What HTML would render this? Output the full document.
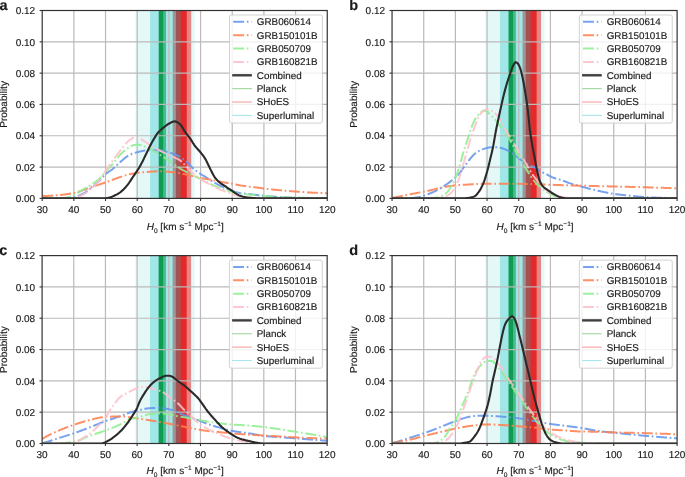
<!DOCTYPE html>
<html><head><meta charset="utf-8"><style>
html,body{margin:0;padding:0;background:#fff;}
svg{display:block;will-change:transform;}
text{font-family:"Liberation Sans", sans-serif;fill:#1a1a1a;text-rendering:geometricPrecision;stroke:#1a1a1a;stroke-width:0.15px;}
</style></head><body>
<svg width="685" height="477" viewBox="0 0 685 477">
<rect width="685" height="477" fill="#fff"/>
<g id="pa">
<clipPath id="ca"><rect x="42.2" y="10.5" width="285.05" height="187.9"/></clipPath>
<g clip-path="url(#ca)">
<rect x="158.79" y="10.5" width="7.22" height="187.9" fill="#008000" fill-opacity="0.55"/>
<rect x="158.79" y="10.5" width="4.4" height="187.9" fill="#008000" fill-opacity="0.8"/>
<rect x="172.69" y="10.5" width="18.5" height="187.9" fill="#ff0000" fill-opacity="0.5"/>
<rect x="175.89" y="10.5" width="10.9" height="187.9" fill="#ff0000" fill-opacity="0.8"/>
<rect x="135.47" y="10.5" width="59.29" height="187.9" fill="#00bfbf" fill-opacity="0.1"/>
<rect x="150.08" y="10.5" width="30.6" height="187.9" fill="#00bfbf" fill-opacity="0.289"/>
<line x1="73.87" y1="10.5" x2="73.87" y2="198.4" stroke="#bababa" stroke-width="1.2"/>
<line x1="105.54" y1="10.5" x2="105.54" y2="198.4" stroke="#bababa" stroke-width="1.2"/>
<line x1="137.22" y1="10.5" x2="137.22" y2="198.4" stroke="#bababa" stroke-width="1.2"/>
<line x1="168.89" y1="10.5" x2="168.89" y2="198.4" stroke="#bababa" stroke-width="1.2"/>
<line x1="200.56" y1="10.5" x2="200.56" y2="198.4" stroke="#bababa" stroke-width="1.2"/>
<line x1="232.23" y1="10.5" x2="232.23" y2="198.4" stroke="#bababa" stroke-width="1.2"/>
<line x1="263.91" y1="10.5" x2="263.91" y2="198.4" stroke="#bababa" stroke-width="1.2"/>
<line x1="295.58" y1="10.5" x2="295.58" y2="198.4" stroke="#bababa" stroke-width="1.2"/>
<line x1="42.2" y1="167.08" x2="327.25" y2="167.08" stroke="#bababa" stroke-width="1.2"/>
<line x1="42.2" y1="135.77" x2="327.25" y2="135.77" stroke="#bababa" stroke-width="1.2"/>
<line x1="42.2" y1="104.45" x2="327.25" y2="104.45" stroke="#bababa" stroke-width="1.2"/>
<line x1="42.2" y1="73.13" x2="327.25" y2="73.13" stroke="#bababa" stroke-width="1.2"/>
<line x1="42.2" y1="41.82" x2="327.25" y2="41.82" stroke="#bababa" stroke-width="1.2"/>
<path d="M42.2 198.4 L42.99 198.4 L43.78 198.4 L44.58 198.4 L45.37 198.4 L46.16 198.4 L46.95 198.4 L47.74 198.4 L48.53 198.4 L49.33 198.4 L50.12 198.4 L50.91 198.4 L51.7 198.4 L52.49 198.4 L53.29 198.4 L54.08 198.4 L54.87 198.4 L55.66 198.4 L56.45 198.4 L57.24 198.4 L58.04 198.4 L58.83 198.4 L59.62 198.4 L60.41 198.4 L61.2 198.4 L62 198.4 L62.79 198.4 L63.58 198.4 L64.37 198.4 L65.16 198.4 L65.95 198.39 L66.75 198.36 L67.54 198.3 L68.33 198.22 L69.12 198.12 L69.91 198.01 L70.71 197.89 L71.5 197.75 L72.29 197.6 L73.08 197.46 L73.87 197.3 L74.66 197.13 L75.46 196.92 L76.25 196.68 L77.04 196.4 L77.83 196.1 L78.62 195.78 L79.41 195.44 L80.21 195.08 L81 194.71 L81.79 194.33 L82.58 193.93 L83.37 193.5 L84.17 193.04 L84.96 192.54 L85.75 192.01 L86.54 191.46 L87.33 190.89 L88.12 190.31 L88.92 189.71 L89.71 189.11 L90.5 188.5 L91.29 187.89 L92.08 187.26 L92.88 186.61 L93.67 185.94 L94.46 185.25 L95.25 184.55 L96.04 183.84 L96.83 183.11 L97.63 182.37 L98.42 181.62 L99.21 180.86 L100 180.06 L100.79 179.2 L101.59 178.31 L102.38 177.41 L103.17 176.52 L103.96 175.66 L104.75 174.86 L105.54 174.13 L106.34 173.48 L107.13 172.88 L107.92 172.32 L108.71 171.78 L109.5 171.26 L110.3 170.73 L111.09 170.19 L111.88 169.61 L112.67 168.99 L113.46 168.33 L114.25 167.63 L115.05 166.9 L115.84 166.15 L116.63 165.39 L117.42 164.63 L118.21 163.87 L119.01 163.14 L119.8 162.42 L120.59 161.74 L121.38 161.07 L122.17 160.4 L122.96 159.71 L123.76 159.03 L124.55 158.36 L125.34 157.71 L126.13 157.09 L126.92 156.5 L127.72 155.96 L128.51 155.46 L129.3 155.03 L130.09 154.65 L130.88 154.3 L131.67 153.97 L132.47 153.66 L133.26 153.37 L134.05 153.1 L134.84 152.85 L135.63 152.62 L136.42 152.4 L137.22 152.21 L138.01 152.02 L138.8 151.83 L139.59 151.64 L140.38 151.45 L141.18 151.26 L141.97 151.09 L142.76 150.92 L143.55 150.76 L144.34 150.62 L145.13 150.49 L145.93 150.38 L146.72 150.29 L147.51 150.23 L148.3 150.19 L149.09 150.17 L149.89 150.17 L150.68 150.17 L151.47 150.17 L152.26 150.17 L153.05 150.17 L153.84 150.17 L154.64 150.17 L155.43 150.17 L156.22 150.17 L157.01 150.17 L157.8 150.17 L158.6 150.17 L159.39 150.2 L160.18 150.27 L160.97 150.37 L161.76 150.5 L162.55 150.65 L163.35 150.83 L164.14 151.03 L164.93 151.24 L165.72 151.46 L166.51 151.68 L167.31 151.91 L168.1 152.14 L168.89 152.36 L169.68 152.59 L170.47 152.83 L171.26 153.09 L172.06 153.36 L172.85 153.64 L173.64 153.95 L174.43 154.26 L175.22 154.59 L176.02 154.94 L176.81 155.3 L177.6 155.67 L178.39 156.06 L179.18 156.47 L179.97 156.89 L180.77 157.34 L181.56 157.84 L182.35 158.39 L183.14 158.98 L183.93 159.59 L184.73 160.23 L185.52 160.89 L186.31 161.56 L187.1 162.25 L187.89 163 L188.68 163.81 L189.48 164.65 L190.27 165.51 L191.06 166.36 L191.85 167.18 L192.64 167.96 L193.43 168.68 L194.23 169.34 L195.02 169.98 L195.81 170.59 L196.6 171.18 L197.39 171.76 L198.19 172.32 L198.98 172.88 L199.77 173.42 L200.56 173.96 L201.35 174.48 L202.14 174.99 L202.94 175.49 L203.73 175.97 L204.52 176.46 L205.31 176.94 L206.1 177.43 L206.9 177.93 L207.69 178.43 L208.48 178.94 L209.27 179.45 L210.06 179.96 L210.85 180.47 L211.65 180.97 L212.44 181.46 L213.23 181.93 L214.02 182.39 L214.81 182.84 L215.61 183.28 L216.4 183.71 L217.19 184.14 L217.98 184.55 L218.77 184.96 L219.56 185.37 L220.36 185.76 L221.15 186.16 L221.94 186.55 L222.73 186.93 L223.52 187.31 L224.32 187.68 L225.11 188.04 L225.9 188.39 L226.69 188.73 L227.48 189.06 L228.27 189.38 L229.07 189.7 L229.86 190.02 L230.65 190.32 L231.44 190.61 L232.23 190.89 L233.03 191.15 L233.82 191.4 L234.61 191.64 L235.4 191.88 L236.19 192.11 L236.98 192.33 L237.78 192.53 L238.57 192.72 L239.36 192.89 L240.15 193.04 L240.94 193.16 L241.74 193.27 L242.53 193.37 L243.32 193.46 L244.11 193.54 L244.9 193.63 L245.69 193.71 L246.49 193.79 L247.28 193.88 L248.07 193.97 L248.86 194.07 L249.65 194.16 L250.44 194.25 L251.24 194.35 L252.03 194.44 L252.82 194.53 L253.61 194.62 L254.4 194.71 L255.2 194.8 L255.99 194.89 L256.78 194.98 L257.57 195.07 L258.36 195.16 L259.15 195.24 L259.95 195.33 L260.74 195.42 L261.53 195.5 L262.32 195.58 L263.11 195.66 L263.91 195.74 L264.7 195.81 L265.49 195.89 L266.28 195.96 L267.07 196.04 L267.86 196.11 L268.66 196.19 L269.45 196.26 L270.24 196.33 L271.03 196.4 L271.82 196.47 L272.62 196.54 L273.41 196.6 L274.2 196.67 L274.99 196.73 L275.78 196.79 L276.57 196.85 L277.37 196.9 L278.16 196.95 L278.95 197 L279.74 197.05 L280.53 197.09 L281.33 197.14 L282.12 197.19 L282.91 197.23 L283.7 197.28 L284.49 197.32 L285.28 197.36 L286.08 197.4 L286.87 197.44 L287.66 197.48 L288.45 197.52 L289.24 197.55 L290.04 197.59 L290.83 197.62 L291.62 197.65 L292.41 197.68 L293.2 197.71 L293.99 197.73 L294.79 197.75 L295.58 197.77 L296.37 197.79 L297.16 197.81 L297.95 197.83 L298.75 197.85 L299.54 197.87 L300.33 197.88 L301.12 197.9 L301.91 197.92 L302.7 197.94 L303.5 197.95 L304.29 197.97 L305.08 197.99 L305.87 198 L306.66 198.02 L307.45 198.03 L308.25 198.05 L309.04 198.06 L309.83 198.08 L310.62 198.09 L311.41 198.1 L312.21 198.12 L313 198.13 L313.79 198.14 L314.58 198.15 L315.37 198.16 L316.16 198.17 L316.96 198.18 L317.75 198.19 L318.54 198.2 L319.33 198.21 L320.12 198.21 L320.92 198.22 L321.71 198.22 L322.5 198.23 L323.29 198.23 L324.08 198.24 L324.87 198.24 L325.67 198.24 L326.46 198.24 L327.25 198.24" fill="none" stroke="#6495ed" stroke-width="2.0" stroke-opacity="0.88" stroke-dasharray="10.9 2.7 1.7 2.7" stroke-linejoin="round"/>
<path d="M42.2 196.05 L42.99 196.04 L43.78 196.02 L44.58 196 L45.37 195.98 L46.16 195.95 L46.95 195.92 L47.74 195.88 L48.53 195.84 L49.33 195.8 L50.12 195.75 L50.91 195.7 L51.7 195.65 L52.49 195.6 L53.29 195.55 L54.08 195.49 L54.87 195.43 L55.66 195.38 L56.45 195.32 L57.24 195.26 L58.04 195.19 L58.83 195.12 L59.62 195.05 L60.41 194.97 L61.2 194.89 L62 194.8 L62.79 194.7 L63.58 194.6 L64.37 194.5 L65.16 194.39 L65.95 194.28 L66.75 194.16 L67.54 194.04 L68.33 193.91 L69.12 193.78 L69.91 193.65 L70.71 193.51 L71.5 193.37 L72.29 193.22 L73.08 193.07 L73.87 192.92 L74.66 192.76 L75.46 192.57 L76.25 192.37 L77.04 192.16 L77.83 191.93 L78.62 191.69 L79.41 191.44 L80.21 191.18 L81 190.91 L81.79 190.63 L82.58 190.35 L83.37 190.06 L84.17 189.77 L84.96 189.48 L85.75 189.19 L86.54 188.89 L87.33 188.6 L88.12 188.32 L88.92 188.04 L89.71 187.76 L90.5 187.49 L91.29 187.23 L92.08 186.97 L92.88 186.7 L93.67 186.44 L94.46 186.18 L95.25 185.92 L96.04 185.65 L96.83 185.39 L97.63 185.12 L98.42 184.86 L99.21 184.59 L100 184.32 L100.79 184.06 L101.59 183.79 L102.38 183.52 L103.17 183.25 L103.96 182.98 L104.75 182.7 L105.54 182.43 L106.34 182.15 L107.13 181.87 L107.92 181.58 L108.71 181.29 L109.5 180.99 L110.3 180.69 L111.09 180.39 L111.88 180.09 L112.67 179.78 L113.46 179.48 L114.25 179.18 L115.05 178.88 L115.84 178.58 L116.63 178.28 L117.42 177.99 L118.21 177.7 L119.01 177.41 L119.8 177.13 L120.59 176.86 L121.38 176.59 L122.17 176.33 L122.96 176.08 L123.76 175.84 L124.55 175.6 L125.34 175.37 L126.13 175.15 L126.92 174.94 L127.72 174.73 L128.51 174.53 L129.3 174.34 L130.09 174.16 L130.88 174 L131.67 173.83 L132.47 173.67 L133.26 173.52 L134.05 173.37 L134.84 173.23 L135.63 173.1 L136.42 172.98 L137.22 172.88 L138.01 172.78 L138.8 172.69 L139.59 172.6 L140.38 172.51 L141.18 172.43 L141.97 172.35 L142.76 172.27 L143.55 172.2 L144.34 172.13 L145.13 172.07 L145.93 172 L146.72 171.94 L147.51 171.89 L148.3 171.83 L149.09 171.78 L149.89 171.73 L150.68 171.67 L151.47 171.62 L152.26 171.57 L153.05 171.51 L153.84 171.47 L154.64 171.42 L155.43 171.38 L156.22 171.35 L157.01 171.33 L157.8 171.31 L158.6 171.31 L159.39 171.32 L160.18 171.33 L160.97 171.35 L161.76 171.37 L162.55 171.41 L163.35 171.44 L164.14 171.48 L164.93 171.53 L165.72 171.57 L166.51 171.62 L167.31 171.67 L168.1 171.73 L168.89 171.78 L169.68 171.84 L170.47 171.91 L171.26 172 L172.06 172.09 L172.85 172.19 L173.64 172.3 L174.43 172.42 L175.22 172.54 L176.02 172.67 L176.81 172.8 L177.6 172.94 L178.39 173.07 L179.18 173.21 L179.97 173.34 L180.77 173.48 L181.56 173.62 L182.35 173.78 L183.14 173.93 L183.93 174.1 L184.73 174.26 L185.52 174.43 L186.31 174.61 L187.1 174.79 L187.89 174.96 L188.68 175.14 L189.48 175.32 L190.27 175.5 L191.06 175.68 L191.85 175.87 L192.64 176.07 L193.43 176.27 L194.23 176.47 L195.02 176.68 L195.81 176.88 L196.6 177.08 L197.39 177.28 L198.19 177.47 L198.98 177.65 L199.77 177.82 L200.56 177.98 L201.35 178.12 L202.14 178.27 L202.94 178.4 L203.73 178.53 L204.52 178.66 L205.31 178.79 L206.1 178.91 L206.9 179.04 L207.69 179.17 L208.48 179.3 L209.27 179.44 L210.06 179.59 L210.85 179.74 L211.65 179.91 L212.44 180.08 L213.23 180.26 L214.02 180.44 L214.81 180.62 L215.61 180.81 L216.4 180.99 L217.19 181.17 L217.98 181.34 L218.77 181.51 L219.56 181.67 L220.36 181.82 L221.15 181.96 L221.94 182.09 L222.73 182.21 L223.52 182.33 L224.32 182.45 L225.11 182.57 L225.9 182.68 L226.69 182.8 L227.48 182.91 L228.27 183.03 L229.07 183.16 L229.86 183.29 L230.65 183.43 L231.44 183.58 L232.23 183.74 L233.03 183.9 L233.82 184.07 L234.61 184.24 L235.4 184.41 L236.19 184.58 L236.98 184.75 L237.78 184.92 L238.57 185.08 L239.36 185.23 L240.15 185.37 L240.94 185.5 L241.74 185.62 L242.53 185.74 L243.32 185.86 L244.11 185.98 L244.9 186.09 L245.69 186.2 L246.49 186.3 L247.28 186.41 L248.07 186.51 L248.86 186.61 L249.65 186.71 L250.44 186.81 L251.24 186.91 L252.03 187 L252.82 187.09 L253.61 187.18 L254.4 187.26 L255.2 187.34 L255.99 187.43 L256.78 187.52 L257.57 187.6 L258.36 187.7 L259.15 187.8 L259.95 187.9 L260.74 188.02 L261.53 188.15 L262.32 188.29 L263.11 188.42 L263.91 188.54 L264.7 188.64 L265.49 188.74 L266.28 188.83 L267.07 188.93 L267.86 189.02 L268.66 189.11 L269.45 189.19 L270.24 189.28 L271.03 189.36 L271.82 189.44 L272.62 189.52 L273.41 189.59 L274.2 189.67 L274.99 189.75 L275.78 189.82 L276.57 189.89 L277.37 189.97 L278.16 190.04 L278.95 190.12 L279.74 190.19 L280.53 190.26 L281.33 190.33 L282.12 190.41 L282.91 190.48 L283.7 190.55 L284.49 190.61 L285.28 190.68 L286.08 190.75 L286.87 190.82 L287.66 190.88 L288.45 190.95 L289.24 191.01 L290.04 191.08 L290.83 191.14 L291.62 191.2 L292.41 191.27 L293.2 191.33 L293.99 191.39 L294.79 191.45 L295.58 191.51 L296.37 191.57 L297.16 191.63 L297.95 191.69 L298.75 191.75 L299.54 191.81 L300.33 191.87 L301.12 191.93 L301.91 191.99 L302.7 192.05 L303.5 192.11 L304.29 192.17 L305.08 192.22 L305.87 192.28 L306.66 192.33 L307.45 192.38 L308.25 192.43 L309.04 192.48 L309.83 192.52 L310.62 192.57 L311.41 192.61 L312.21 192.65 L313 192.69 L313.79 192.72 L314.58 192.76 L315.37 192.8 L316.16 192.83 L316.96 192.87 L317.75 192.9 L318.54 192.94 L319.33 192.97 L320.12 193 L320.92 193.03 L321.71 193.06 L322.5 193.09 L323.29 193.12 L324.08 193.14 L324.87 193.17 L325.67 193.19 L326.46 193.21 L327.25 193.23" fill="none" stroke="#ff7f50" stroke-width="2.0" stroke-opacity="0.88" stroke-dasharray="10.9 2.7 1.7 2.7" stroke-linejoin="round"/>
<path d="M42.2 198.4 L42.99 198.4 L43.78 198.4 L44.58 198.4 L45.37 198.4 L46.16 198.4 L46.95 198.4 L47.74 198.4 L48.53 198.4 L49.33 198.4 L50.12 198.4 L50.91 198.4 L51.7 198.4 L52.49 198.4 L53.29 198.4 L54.08 198.4 L54.87 198.4 L55.66 198.4 L56.45 198.4 L57.24 198.4 L58.04 198.4 L58.83 198.39 L59.62 198.36 L60.41 198.31 L61.2 198.26 L62 198.18 L62.79 198.11 L63.58 198.02 L64.37 197.93 L65.16 197.82 L65.95 197.68 L66.75 197.52 L67.54 197.32 L68.33 197.1 L69.12 196.86 L69.91 196.6 L70.71 196.33 L71.5 196.04 L72.29 195.74 L73.08 195.43 L73.87 195.11 L74.66 194.76 L75.46 194.36 L76.25 193.91 L77.04 193.43 L77.83 192.92 L78.62 192.39 L79.41 191.86 L80.21 191.32 L81 190.8 L81.79 190.3 L82.58 189.81 L83.37 189.34 L84.17 188.87 L84.96 188.41 L85.75 187.94 L86.54 187.47 L87.33 187 L88.12 186.52 L88.92 186.04 L89.71 185.54 L90.5 185.04 L91.29 184.52 L92.08 184.02 L92.88 183.51 L93.67 183 L94.46 182.48 L95.25 181.94 L96.04 181.39 L96.83 180.81 L97.63 180.2 L98.42 179.55 L99.21 178.86 L100 178.08 L100.79 177.23 L101.59 176.32 L102.38 175.38 L103.17 174.42 L103.96 173.46 L104.75 172.52 L105.54 171.62 L106.34 170.76 L107.13 169.91 L107.92 169.07 L108.71 168.23 L109.5 167.4 L110.3 166.55 L111.09 165.7 L111.88 164.82 L112.67 163.93 L113.46 162.98 L114.25 162 L115.05 160.99 L115.84 159.96 L116.63 158.93 L117.42 157.91 L118.21 156.92 L119.01 155.97 L119.8 155.07 L120.59 154.24 L121.38 153.47 L122.17 152.73 L122.96 152 L123.76 151.3 L124.55 150.63 L125.34 149.98 L126.13 149.36 L126.92 148.76 L127.72 148.2 L128.51 147.66 L129.3 147.15 L130.09 146.64 L130.88 146.16 L131.67 145.76 L132.47 145.47 L133.26 145.27 L134.05 145.09 L134.84 144.93 L135.63 144.8 L136.42 144.72 L137.22 144.69 L138.01 144.72 L138.8 144.79 L139.59 144.91 L140.38 145.07 L141.18 145.27 L141.97 145.49 L142.76 145.75 L143.55 146.03 L144.34 146.33 L145.13 146.64 L145.93 146.97 L146.72 147.3 L147.51 147.63 L148.3 147.97 L149.09 148.29 L149.89 148.64 L150.68 149.03 L151.47 149.46 L152.26 149.93 L153.05 150.41 L153.84 150.92 L154.64 151.44 L155.43 151.97 L156.22 152.5 L157.01 153.02 L157.8 153.53 L158.6 154.03 L159.39 154.51 L160.18 155 L160.97 155.49 L161.76 155.97 L162.55 156.46 L163.35 156.95 L164.14 157.44 L164.93 157.94 L165.72 158.44 L166.51 158.95 L167.31 159.46 L168.1 159.98 L168.89 160.51 L169.68 161.05 L170.47 161.61 L171.26 162.19 L172.06 162.78 L172.85 163.37 L173.64 163.97 L174.43 164.57 L175.22 165.17 L176.02 165.75 L176.81 166.32 L177.6 166.88 L178.39 167.41 L179.18 167.92 L179.97 168.41 L180.77 168.88 L181.56 169.33 L182.35 169.78 L183.14 170.21 L183.93 170.64 L184.73 171.05 L185.52 171.47 L186.31 171.88 L187.1 172.29 L187.89 172.69 L188.68 173.08 L189.48 173.47 L190.27 173.85 L191.06 174.23 L191.85 174.62 L192.64 175 L193.43 175.4 L194.23 175.8 L195.02 176.2 L195.81 176.61 L196.6 177.02 L197.39 177.43 L198.19 177.84 L198.98 178.25 L199.77 178.65 L200.56 179.05 L201.35 179.44 L202.14 179.83 L202.94 180.22 L203.73 180.6 L204.52 180.99 L205.31 181.37 L206.1 181.76 L206.9 182.15 L207.69 182.54 L208.48 182.94 L209.27 183.35 L210.06 183.75 L210.85 184.15 L211.65 184.54 L212.44 184.91 L213.23 185.27 L214.02 185.6 L214.81 185.92 L215.61 186.22 L216.4 186.51 L217.19 186.8 L217.98 187.08 L218.77 187.37 L219.56 187.65 L220.36 187.94 L221.15 188.25 L221.94 188.56 L222.73 188.87 L223.52 189.18 L224.32 189.49 L225.11 189.78 L225.9 190.06 L226.69 190.33 L227.48 190.57 L228.27 190.79 L229.07 191.01 L229.86 191.22 L230.65 191.42 L231.44 191.61 L232.23 191.8 L233.03 191.99 L233.82 192.17 L234.61 192.36 L235.4 192.54 L236.19 192.72 L236.98 192.9 L237.78 193.07 L238.57 193.23 L239.36 193.38 L240.15 193.51 L240.94 193.63 L241.74 193.75 L242.53 193.85 L243.32 193.95 L244.11 194.05 L244.9 194.14 L245.69 194.23 L246.49 194.32 L247.28 194.4 L248.07 194.49 L248.86 194.57 L249.65 194.65 L250.44 194.73 L251.24 194.81 L252.03 194.88 L252.82 194.96 L253.61 195.03 L254.4 195.1 L255.2 195.17 L255.99 195.24 L256.78 195.31 L257.57 195.38 L258.36 195.44 L259.15 195.51 L259.95 195.58 L260.74 195.64 L261.53 195.71 L262.32 195.78 L263.11 195.84 L263.91 195.91 L264.7 195.98 L265.49 196.04 L266.28 196.11 L267.07 196.18 L267.86 196.24 L268.66 196.31 L269.45 196.37 L270.24 196.43 L271.03 196.49 L271.82 196.55 L272.62 196.61 L273.41 196.67 L274.2 196.72 L274.99 196.77 L275.78 196.82 L276.57 196.87 L277.37 196.92 L278.16 196.96 L278.95 197 L279.74 197.04 L280.53 197.08 L281.33 197.11 L282.12 197.15 L282.91 197.18 L283.7 197.22 L284.49 197.25 L285.28 197.29 L286.08 197.32 L286.87 197.35 L287.66 197.38 L288.45 197.41 L289.24 197.44 L290.04 197.46 L290.83 197.49 L291.62 197.51 L292.41 197.54 L293.2 197.56 L293.99 197.58 L294.79 197.6 L295.58 197.62 L296.37 197.63 L297.16 197.65 L297.95 197.67 L298.75 197.69 L299.54 197.7 L300.33 197.72 L301.12 197.74 L301.91 197.76 L302.7 197.77 L303.5 197.79 L304.29 197.81 L305.08 197.82 L305.87 197.84 L306.66 197.85 L307.45 197.87 L308.25 197.88 L309.04 197.9 L309.83 197.91 L310.62 197.93 L311.41 197.94 L312.21 197.95 L313 197.96 L313.79 197.98 L314.58 197.99 L315.37 198 L316.16 198.01 L316.96 198.02 L317.75 198.03 L318.54 198.04 L319.33 198.05 L320.12 198.05 L320.92 198.06 L321.71 198.07 L322.5 198.07 L323.29 198.08 L324.08 198.08 L324.87 198.08 L325.67 198.08 L326.46 198.09 L327.25 198.09" fill="none" stroke="#90ee90" stroke-width="2.0" stroke-opacity="0.88" stroke-dasharray="10.9 2.7 1.7 2.7" stroke-linejoin="round"/>
<path d="M42.2 198.4 L42.99 198.4 L43.78 198.4 L44.58 198.4 L45.37 198.4 L46.16 198.4 L46.95 198.4 L47.74 198.4 L48.53 198.4 L49.33 198.4 L50.12 198.4 L50.91 198.4 L51.7 198.4 L52.49 198.4 L53.29 198.4 L54.08 198.4 L54.87 198.4 L55.66 198.4 L56.45 198.4 L57.24 198.4 L58.04 198.4 L58.83 198.4 L59.62 198.4 L60.41 198.4 L61.2 198.4 L62 198.4 L62.79 198.4 L63.58 198.4 L64.37 198.4 L65.16 198.4 L65.95 198.4 L66.75 198.4 L67.54 198.4 L68.33 198.39 L69.12 198.38 L69.91 198.35 L70.71 198.31 L71.5 198.26 L72.29 198.21 L73.08 198.15 L73.87 198.09 L74.66 197.99 L75.46 197.83 L76.25 197.62 L77.04 197.36 L77.83 197.06 L78.62 196.74 L79.41 196.39 L80.21 196.02 L81 195.64 L81.79 195.26 L82.58 194.88 L83.37 194.45 L84.17 193.99 L84.96 193.49 L85.75 192.96 L86.54 192.4 L87.33 191.81 L88.12 191.2 L88.92 190.58 L89.71 189.94 L90.5 189.29 L91.29 188.63 L92.08 187.95 L92.88 187.24 L93.67 186.5 L94.46 185.73 L95.25 184.93 L96.04 184.11 L96.83 183.25 L97.63 182.36 L98.42 181.43 L99.21 180.47 L100 179.41 L100.79 178.27 L101.59 177.06 L102.38 175.81 L103.17 174.54 L103.96 173.28 L104.75 172.04 L105.54 170.84 L106.34 169.68 L107.13 168.52 L107.92 167.36 L108.71 166.21 L109.5 165.07 L110.3 163.94 L111.09 162.81 L111.88 161.7 L112.67 160.6 L113.46 159.5 L114.25 158.41 L115.05 157.32 L115.84 156.24 L116.63 155.17 L117.42 154.11 L118.21 153.07 L119.01 152.04 L119.8 151.03 L120.59 150.05 L121.38 149.08 L122.17 148.09 L122.96 147.1 L123.76 146.11 L124.55 145.14 L125.34 144.2 L126.13 143.31 L126.92 142.47 L127.72 141.69 L128.51 141 L129.3 140.38 L130.09 139.75 L130.88 139.12 L131.67 138.55 L132.47 138.08 L133.26 137.76 L134.05 137.65 L134.84 137.66 L135.63 137.69 L136.42 137.74 L137.22 137.8 L138.01 137.91 L138.8 138.11 L139.59 138.39 L140.38 138.74 L141.18 139.14 L141.97 139.6 L142.76 140.1 L143.55 140.63 L144.34 141.18 L145.13 141.74 L145.93 142.3 L146.72 142.86 L147.51 143.4 L148.3 143.91 L149.09 144.38 L149.89 144.83 L150.68 145.3 L151.47 145.77 L152.26 146.24 L153.05 146.72 L153.84 147.19 L154.64 147.67 L155.43 148.14 L156.22 148.6 L157.01 149.06 L157.8 149.51 L158.6 149.95 L159.39 150.37 L160.18 150.8 L160.97 151.21 L161.76 151.63 L162.55 152.03 L163.35 152.44 L164.14 152.84 L164.93 153.24 L165.72 153.63 L166.51 154.02 L167.31 154.41 L168.1 154.8 L168.89 155.18 L169.68 155.56 L170.47 155.91 L171.26 156.24 L172.06 156.57 L172.85 156.89 L173.64 157.2 L174.43 157.53 L175.22 157.86 L176.02 158.2 L176.81 158.57 L177.6 158.96 L178.39 159.38 L179.18 159.83 L179.97 160.33 L180.77 160.91 L181.56 161.59 L182.35 162.36 L183.14 163.19 L183.93 164.06 L184.73 164.95 L185.52 165.82 L186.31 166.67 L187.1 167.46 L187.89 168.26 L188.68 169.07 L189.48 169.88 L190.27 170.69 L191.06 171.48 L191.85 172.25 L192.64 172.98 L193.43 173.69 L194.23 174.36 L195.02 175.02 L195.81 175.66 L196.6 176.28 L197.39 176.88 L198.19 177.47 L198.98 178.04 L199.77 178.59 L200.56 179.13 L201.35 179.64 L202.14 180.15 L202.94 180.64 L203.73 181.12 L204.52 181.58 L205.31 182.04 L206.1 182.49 L206.9 182.93 L207.69 183.37 L208.48 183.79 L209.27 184.2 L210.06 184.6 L210.85 185 L211.65 185.4 L212.44 185.79 L213.23 186.18 L214.02 186.58 L214.81 186.99 L215.61 187.39 L216.4 187.8 L217.19 188.2 L217.98 188.59 L218.77 188.96 L219.56 189.33 L220.36 189.67 L221.15 190 L221.94 190.3 L222.73 190.6 L223.52 190.89 L224.32 191.18 L225.11 191.46 L225.9 191.74 L226.69 192.03 L227.48 192.33 L228.27 192.64 L229.07 192.95 L229.86 193.27 L230.65 193.58 L231.44 193.88 L232.23 194.17 L233.03 194.44 L233.82 194.69 L234.61 194.93 L235.4 195.15 L236.19 195.37 L236.98 195.58 L237.78 195.78 L238.57 195.97 L239.36 196.15 L240.15 196.32 L240.94 196.48 L241.74 196.63 L242.53 196.78 L243.32 196.92 L244.11 197.05 L244.9 197.18 L245.69 197.29 L246.49 197.39 L247.28 197.48 L248.07 197.56 L248.86 197.64 L249.65 197.72 L250.44 197.79 L251.24 197.86 L252.03 197.92 L252.82 197.98 L253.61 198.04 L254.4 198.09 L255.2 198.13 L255.99 198.18 L256.78 198.21 L257.57 198.24 L258.36 198.27 L259.15 198.3 L259.95 198.33 L260.74 198.35 L261.53 198.37 L262.32 198.39 L263.11 198.4 L263.91 198.4 L264.7 198.4 L265.49 198.4 L266.28 198.4 L267.07 198.4 L267.86 198.4 L268.66 198.4 L269.45 198.4 L270.24 198.4 L271.03 198.4 L271.82 198.4 L272.62 198.4 L273.41 198.4 L274.2 198.4 L274.99 198.4 L275.78 198.4 L276.57 198.4 L277.37 198.4 L278.16 198.4 L278.95 198.4 L279.74 198.4 L280.53 198.4 L281.33 198.4 L282.12 198.4 L282.91 198.4 L283.7 198.4 L284.49 198.4 L285.28 198.4 L286.08 198.4 L286.87 198.4 L287.66 198.4 L288.45 198.4 L289.24 198.4 L290.04 198.4 L290.83 198.4 L291.62 198.4 L292.41 198.4 L293.2 198.4 L293.99 198.4 L294.79 198.4 L295.58 198.4 L296.37 198.4 L297.16 198.4 L297.95 198.4 L298.75 198.4 L299.54 198.4 L300.33 198.4 L301.12 198.4 L301.91 198.4 L302.7 198.4 L303.5 198.4 L304.29 198.4 L305.08 198.4 L305.87 198.4 L306.66 198.4 L307.45 198.4 L308.25 198.4 L309.04 198.4 L309.83 198.4 L310.62 198.4 L311.41 198.4 L312.21 198.4 L313 198.4 L313.79 198.4 L314.58 198.4 L315.37 198.4 L316.16 198.4 L316.96 198.4 L317.75 198.4 L318.54 198.4 L319.33 198.4 L320.12 198.4 L320.92 198.4 L321.71 198.4 L322.5 198.4 L323.29 198.4 L324.08 198.4 L324.87 198.4 L325.67 198.4 L326.46 198.4 L327.25 198.4" fill="none" stroke="#ffc0cb" stroke-width="2.0" stroke-opacity="0.88" stroke-dasharray="10.9 2.7 1.7 2.7" stroke-linejoin="round"/>
<path d="M42.2 198.4 L42.99 198.4 L43.78 198.4 L44.58 198.4 L45.37 198.4 L46.16 198.4 L46.95 198.4 L47.74 198.4 L48.53 198.4 L49.33 198.4 L50.12 198.4 L50.91 198.4 L51.7 198.4 L52.49 198.4 L53.29 198.4 L54.08 198.4 L54.87 198.4 L55.66 198.4 L56.45 198.4 L57.24 198.4 L58.04 198.4 L58.83 198.4 L59.62 198.4 L60.41 198.4 L61.2 198.4 L62 198.4 L62.79 198.4 L63.58 198.4 L64.37 198.4 L65.16 198.4 L65.95 198.4 L66.75 198.4 L67.54 198.4 L68.33 198.4 L69.12 198.4 L69.91 198.4 L70.71 198.4 L71.5 198.4 L72.29 198.4 L73.08 198.4 L73.87 198.4 L74.66 198.4 L75.46 198.4 L76.25 198.4 L77.04 198.4 L77.83 198.4 L78.62 198.4 L79.41 198.4 L80.21 198.4 L81 198.4 L81.79 198.4 L82.58 198.4 L83.37 198.4 L84.17 198.4 L84.96 198.4 L85.75 198.4 L86.54 198.4 L87.33 198.4 L88.12 198.4 L88.92 198.4 L89.71 198.4 L90.5 198.4 L91.29 198.4 L92.08 198.4 L92.88 198.4 L93.67 198.4 L94.46 198.4 L95.25 198.4 L96.04 198.4 L96.83 198.4 L97.63 198.4 L98.42 198.4 L99.21 198.4 L100 198.4 L100.79 198.4 L101.59 198.39 L102.38 198.37 L103.17 198.34 L103.96 198.31 L104.75 198.26 L105.54 198.21 L106.34 198.11 L107.13 197.98 L107.92 197.83 L108.71 197.65 L109.5 197.46 L110.3 197.25 L111.09 197.01 L111.88 196.73 L112.67 196.41 L113.46 196.06 L114.25 195.69 L115.05 195.31 L115.84 194.92 L116.63 194.51 L117.42 194.07 L118.21 193.6 L119.01 193.1 L119.8 192.56 L120.59 191.99 L121.38 191.35 L122.17 190.66 L122.96 189.92 L123.76 189.14 L124.55 188.34 L125.34 187.49 L126.13 186.58 L126.92 185.63 L127.72 184.64 L128.51 183.61 L129.3 182.51 L130.09 181.33 L130.88 180.11 L131.67 178.89 L132.47 177.71 L133.26 176.53 L134.05 175.35 L134.84 174.17 L135.63 172.98 L136.42 171.82 L137.22 170.65 L138.01 169.45 L138.8 168.18 L139.59 166.85 L140.38 165.47 L141.18 164.03 L141.97 162.54 L142.76 160.98 L143.55 159.33 L144.34 157.65 L145.13 155.99 L145.93 154.37 L146.72 152.75 L147.51 151.11 L148.3 149.48 L149.09 147.86 L149.89 146.27 L150.68 144.71 L151.47 143.21 L152.26 141.77 L153.05 140.39 L153.84 139.02 L154.64 137.68 L155.43 136.37 L156.22 135.13 L157.01 133.97 L157.8 132.92 L158.6 131.99 L159.39 131.16 L160.18 130.4 L160.97 129.7 L161.76 129.03 L162.55 128.4 L163.35 127.78 L164.14 127.15 L164.93 126.52 L165.72 125.89 L166.51 125.28 L167.31 124.7 L168.1 124.17 L168.89 123.71 L169.68 123.28 L170.47 122.83 L171.26 122.4 L172.06 122.01 L172.85 121.69 L173.64 121.47 L174.43 121.36 L175.22 121.42 L176.02 121.63 L176.81 121.97 L177.6 122.42 L178.39 122.96 L179.18 123.54 L179.97 124.15 L180.77 124.94 L181.56 126.03 L182.35 127.32 L183.14 128.71 L183.93 130.1 L184.73 131.39 L185.52 132.51 L186.31 133.55 L187.1 134.56 L187.89 135.56 L188.68 136.56 L189.48 137.6 L190.27 138.7 L191.06 139.89 L191.85 141.15 L192.64 142.43 L193.43 143.69 L194.23 144.9 L195.02 146.02 L195.81 147.02 L196.6 147.94 L197.39 148.82 L198.19 149.68 L198.98 150.56 L199.77 151.47 L200.56 152.44 L201.35 153.41 L202.14 154.39 L202.94 155.41 L203.73 156.48 L204.52 157.63 L205.31 158.89 L206.1 160.35 L206.9 161.97 L207.69 163.65 L208.48 165.3 L209.27 166.91 L210.06 168.53 L210.85 170.14 L211.65 171.68 L212.44 173.16 L213.23 174.65 L214.02 176.06 L214.81 177.32 L215.61 178.36 L216.4 179.29 L217.19 180.14 L217.98 180.92 L218.77 181.64 L219.56 182.32 L220.36 182.97 L221.15 183.58 L221.94 184.15 L222.73 184.68 L223.52 185.19 L224.32 185.7 L225.11 186.22 L225.9 186.74 L226.69 187.26 L227.48 187.78 L228.27 188.3 L229.07 188.81 L229.86 189.34 L230.65 189.87 L231.44 190.42 L232.23 190.97 L233.03 191.53 L233.82 192.08 L234.61 192.61 L235.4 193.12 L236.19 193.61 L236.98 194.12 L237.78 194.61 L238.57 195.07 L239.36 195.48 L240.15 195.82 L240.94 196.08 L241.74 196.32 L242.53 196.55 L243.32 196.75 L244.11 196.93 L244.9 197.1 L245.69 197.25 L246.49 197.38 L247.28 197.49 L248.07 197.58 L248.86 197.68 L249.65 197.76 L250.44 197.83 L251.24 197.9 L252.03 197.97 L252.82 198.02 L253.61 198.08 L254.4 198.12 L255.2 198.17 L255.99 198.22 L256.78 198.27 L257.57 198.31 L258.36 198.35 L259.15 198.38 L259.95 198.39 L260.74 198.4 L261.53 198.4 L262.32 198.4 L263.11 198.4 L263.91 198.4 L264.7 198.4 L265.49 198.4 L266.28 198.4 L267.07 198.4 L267.86 198.4 L268.66 198.4 L269.45 198.4 L270.24 198.4 L271.03 198.4 L271.82 198.4 L272.62 198.4 L273.41 198.4 L274.2 198.4 L274.99 198.4 L275.78 198.4 L276.57 198.4 L277.37 198.4 L278.16 198.4 L278.95 198.4 L279.74 198.4 L280.53 198.4 L281.33 198.4 L282.12 198.4 L282.91 198.4 L283.7 198.4 L284.49 198.4 L285.28 198.4 L286.08 198.4 L286.87 198.4 L287.66 198.4 L288.45 198.4 L289.24 198.4 L290.04 198.4 L290.83 198.4 L291.62 198.4 L292.41 198.4 L293.2 198.4 L293.99 198.4 L294.79 198.4 L295.58 198.4 L296.37 198.4 L297.16 198.4 L297.95 198.4 L298.75 198.4 L299.54 198.4 L300.33 198.4 L301.12 198.4 L301.91 198.4 L302.7 198.4 L303.5 198.4 L304.29 198.4 L305.08 198.4 L305.87 198.4 L306.66 198.4 L307.45 198.4 L308.25 198.4 L309.04 198.4 L309.83 198.4 L310.62 198.4 L311.41 198.4 L312.21 198.4 L313 198.4 L313.79 198.4 L314.58 198.4 L315.37 198.4 L316.16 198.4 L316.96 198.4 L317.75 198.4 L318.54 198.4 L319.33 198.4 L320.12 198.4 L320.92 198.4 L321.71 198.4 L322.5 198.4 L323.29 198.4 L324.08 198.4 L324.87 198.4 L325.67 198.4 L326.46 198.4 L327.25 198.4" fill="none" stroke="#2a2a2a" stroke-width="2.1" stroke-linejoin="round"/>
</g>
<rect x="42.2" y="10.5" width="285.05" height="187.9" fill="none" stroke="#333333" stroke-width="1.2"/>
<line x1="42.2" y1="198.4" x2="42.2" y2="201" stroke="#333333" stroke-width="1.1"/>
<text x="42.2" y="213" text-anchor="middle" font-size="10">30</text>
<line x1="73.87" y1="198.4" x2="73.87" y2="201" stroke="#333333" stroke-width="1.1"/>
<text x="73.87" y="213" text-anchor="middle" font-size="10">40</text>
<line x1="105.54" y1="198.4" x2="105.54" y2="201" stroke="#333333" stroke-width="1.1"/>
<text x="105.54" y="213" text-anchor="middle" font-size="10">50</text>
<line x1="137.22" y1="198.4" x2="137.22" y2="201" stroke="#333333" stroke-width="1.1"/>
<text x="137.22" y="213" text-anchor="middle" font-size="10">60</text>
<line x1="168.89" y1="198.4" x2="168.89" y2="201" stroke="#333333" stroke-width="1.1"/>
<text x="168.89" y="213" text-anchor="middle" font-size="10">70</text>
<line x1="200.56" y1="198.4" x2="200.56" y2="201" stroke="#333333" stroke-width="1.1"/>
<text x="200.56" y="213" text-anchor="middle" font-size="10">80</text>
<line x1="232.23" y1="198.4" x2="232.23" y2="201" stroke="#333333" stroke-width="1.1"/>
<text x="232.23" y="213" text-anchor="middle" font-size="10">90</text>
<line x1="263.91" y1="198.4" x2="263.91" y2="201" stroke="#333333" stroke-width="1.1"/>
<text x="263.91" y="213" text-anchor="middle" font-size="10">100</text>
<line x1="295.58" y1="198.4" x2="295.58" y2="201" stroke="#333333" stroke-width="1.1"/>
<text x="295.58" y="213" text-anchor="middle" font-size="10">110</text>
<line x1="327.25" y1="198.4" x2="327.25" y2="201" stroke="#333333" stroke-width="1.1"/>
<text x="327.25" y="213" text-anchor="middle" font-size="10">120</text>
<line x1="39.6" y1="198.4" x2="42.2" y2="198.4" stroke="#333333" stroke-width="1.1"/>
<text x="35.2" y="202.1" text-anchor="end" font-size="10">0.00</text>
<line x1="39.6" y1="167.08" x2="42.2" y2="167.08" stroke="#333333" stroke-width="1.1"/>
<text x="35.2" y="170.78" text-anchor="end" font-size="10">0.02</text>
<line x1="39.6" y1="135.77" x2="42.2" y2="135.77" stroke="#333333" stroke-width="1.1"/>
<text x="35.2" y="139.47" text-anchor="end" font-size="10">0.04</text>
<line x1="39.6" y1="104.45" x2="42.2" y2="104.45" stroke="#333333" stroke-width="1.1"/>
<text x="35.2" y="108.15" text-anchor="end" font-size="10">0.06</text>
<line x1="39.6" y1="73.13" x2="42.2" y2="73.13" stroke="#333333" stroke-width="1.1"/>
<text x="35.2" y="76.83" text-anchor="end" font-size="10">0.08</text>
<line x1="39.6" y1="41.82" x2="42.2" y2="41.82" stroke="#333333" stroke-width="1.1"/>
<text x="35.2" y="45.52" text-anchor="end" font-size="10">0.10</text>
<line x1="39.6" y1="10.5" x2="42.2" y2="10.5" stroke="#333333" stroke-width="1.1"/>
<text x="35.2" y="14.2" text-anchor="end" font-size="10">0.12</text>
<text x="185.23" y="230.2" text-anchor="middle" font-size="10"><tspan font-style="italic">H</tspan><tspan font-size="6.60" dy="2.8">0</tspan><tspan dy="-2.8"> [km s</tspan><tspan font-size="6.60" dy="-4.3">−1</tspan><tspan dy="4.3"> Mpc</tspan><tspan font-size="6.60" dy="-4.3">−1</tspan><tspan dy="4.3">]</tspan></text>
<text transform="translate(6.9,104.45) rotate(-90)" text-anchor="middle" font-size="10">Probability</text>
<text x="-0.6" y="10.2" font-size="14.5" font-weight="bold">a</text>
<rect x="229.5" y="15" width="92.9" height="108.1" rx="2" fill="#fff" fill-opacity="0.8" stroke="#cccccc" stroke-width="0.9"/>
<line x1="233.2" y1="21.8" x2="251.6" y2="21.8" stroke="#6495ed" stroke-width="2.0" stroke-opacity="0.88" stroke-dasharray="10.9 2.7 1.7 2.7"/>
<text x="256.8" y="25.2" font-size="9.85">GRB060614</text>
<line x1="233.2" y1="35.17" x2="251.6" y2="35.17" stroke="#ff7f50" stroke-width="2.0" stroke-opacity="0.88" stroke-dasharray="10.9 2.7 1.7 2.7"/>
<text x="256.8" y="38.57" font-size="9.85">GRB150101B</text>
<line x1="233.2" y1="48.54" x2="251.6" y2="48.54" stroke="#90ee90" stroke-width="2.0" stroke-opacity="0.88" stroke-dasharray="10.9 2.7 1.7 2.7"/>
<text x="256.8" y="51.94" font-size="9.85">GRB050709</text>
<line x1="233.2" y1="61.91" x2="251.6" y2="61.91" stroke="#ffc0cb" stroke-width="2.0" stroke-opacity="0.88" stroke-dasharray="10.9 2.7 1.7 2.7"/>
<text x="256.8" y="65.31" font-size="9.85">GRB160821B</text>
<line x1="232.2" y1="75.28" x2="251.9" y2="75.28" stroke="#2a2a2a" stroke-width="2.4" stroke-opacity="0.9"/>
<text x="256.8" y="78.68" font-size="9.85">Combined</text>
<line x1="232.2" y1="88.65" x2="251.9" y2="88.65" stroke="#9fd79f" stroke-width="1.1"/>
<text x="256.8" y="92.05" font-size="9.85">Planck</text>
<line x1="232.2" y1="102.02" x2="251.9" y2="102.02" stroke="#f5a0a0" stroke-width="1.1"/>
<text x="256.8" y="105.42" font-size="9.85">SHoES</text>
<line x1="232.2" y1="115.39" x2="251.9" y2="115.39" stroke="#a6e6ec" stroke-width="1.1"/>
<text x="256.8" y="118.79" font-size="9.85">Superluminal</text>
</g>
<g id="pb">
<clipPath id="cb"><rect x="392.05" y="10.5" width="285.05" height="187.9"/></clipPath>
<g clip-path="url(#cb)">
<rect x="508.64" y="10.5" width="7.22" height="187.9" fill="#008000" fill-opacity="0.55"/>
<rect x="508.64" y="10.5" width="4.4" height="187.9" fill="#008000" fill-opacity="0.8"/>
<rect x="522.54" y="10.5" width="18.5" height="187.9" fill="#ff0000" fill-opacity="0.5"/>
<rect x="525.74" y="10.5" width="10.9" height="187.9" fill="#ff0000" fill-opacity="0.8"/>
<rect x="485.32" y="10.5" width="59.29" height="187.9" fill="#00bfbf" fill-opacity="0.1"/>
<rect x="499.93" y="10.5" width="30.6" height="187.9" fill="#00bfbf" fill-opacity="0.289"/>
<line x1="423.72" y1="10.5" x2="423.72" y2="198.4" stroke="#bababa" stroke-width="1.2"/>
<line x1="455.39" y1="10.5" x2="455.39" y2="198.4" stroke="#bababa" stroke-width="1.2"/>
<line x1="487.07" y1="10.5" x2="487.07" y2="198.4" stroke="#bababa" stroke-width="1.2"/>
<line x1="518.74" y1="10.5" x2="518.74" y2="198.4" stroke="#bababa" stroke-width="1.2"/>
<line x1="550.41" y1="10.5" x2="550.41" y2="198.4" stroke="#bababa" stroke-width="1.2"/>
<line x1="582.08" y1="10.5" x2="582.08" y2="198.4" stroke="#bababa" stroke-width="1.2"/>
<line x1="613.76" y1="10.5" x2="613.76" y2="198.4" stroke="#bababa" stroke-width="1.2"/>
<line x1="645.43" y1="10.5" x2="645.43" y2="198.4" stroke="#bababa" stroke-width="1.2"/>
<line x1="392.05" y1="167.08" x2="677.1" y2="167.08" stroke="#bababa" stroke-width="1.2"/>
<line x1="392.05" y1="135.77" x2="677.1" y2="135.77" stroke="#bababa" stroke-width="1.2"/>
<line x1="392.05" y1="104.45" x2="677.1" y2="104.45" stroke="#bababa" stroke-width="1.2"/>
<line x1="392.05" y1="73.13" x2="677.1" y2="73.13" stroke="#bababa" stroke-width="1.2"/>
<line x1="392.05" y1="41.82" x2="677.1" y2="41.82" stroke="#bababa" stroke-width="1.2"/>
<path d="M392.05 198.4 L392.84 198.4 L393.63 198.4 L394.43 198.4 L395.22 198.4 L396.01 198.4 L396.8 198.4 L397.59 198.4 L398.38 198.4 L399.18 198.4 L399.97 198.4 L400.76 198.4 L401.55 198.4 L402.34 198.4 L403.14 198.4 L403.93 198.4 L404.72 198.4 L405.51 198.4 L406.3 198.4 L407.09 198.4 L407.89 198.4 L408.68 198.39 L409.47 198.36 L410.26 198.31 L411.05 198.25 L411.85 198.17 L412.64 198.08 L413.43 197.98 L414.22 197.86 L415.01 197.74 L415.8 197.61 L416.6 197.47 L417.39 197.32 L418.18 197.18 L418.97 197.03 L419.76 196.88 L420.56 196.72 L421.35 196.53 L422.14 196.32 L422.93 196.09 L423.72 195.84 L424.51 195.57 L425.31 195.29 L426.1 194.99 L426.89 194.68 L427.68 194.37 L428.47 194.05 L429.26 193.72 L430.06 193.4 L430.85 193.08 L431.64 192.75 L432.43 192.41 L433.22 192.05 L434.02 191.69 L434.81 191.32 L435.6 190.93 L436.39 190.54 L437.18 190.13 L437.97 189.72 L438.77 189.29 L439.56 188.86 L440.35 188.41 L441.14 187.95 L441.93 187.48 L442.73 186.99 L443.52 186.47 L444.31 185.94 L445.1 185.4 L445.89 184.84 L446.68 184.27 L447.48 183.69 L448.27 183.1 L449.06 182.51 L449.85 181.9 L450.64 181.29 L451.44 180.68 L452.23 180.07 L453.02 179.46 L453.81 178.84 L454.6 178.21 L455.39 177.55 L456.19 176.85 L456.98 176.11 L457.77 175.32 L458.56 174.44 L459.35 173.47 L460.15 172.43 L460.94 171.34 L461.73 170.22 L462.52 169.1 L463.31 167.99 L464.1 166.91 L464.9 165.83 L465.69 164.72 L466.48 163.6 L467.27 162.48 L468.06 161.39 L468.86 160.34 L469.65 159.34 L470.44 158.41 L471.23 157.5 L472.02 156.61 L472.81 155.74 L473.61 154.91 L474.4 154.12 L475.19 153.41 L475.98 152.77 L476.77 152.22 L477.56 151.72 L478.36 151.26 L479.15 150.83 L479.94 150.43 L480.73 150.06 L481.52 149.73 L482.32 149.42 L483.11 149.13 L483.9 148.86 L484.69 148.6 L485.48 148.36 L486.27 148.13 L487.07 147.92 L487.86 147.74 L488.65 147.59 L489.44 147.46 L490.23 147.34 L491.03 147.23 L491.82 147.13 L492.61 147.06 L493.4 147.04 L494.19 147.06 L494.98 147.11 L495.78 147.18 L496.57 147.26 L497.36 147.34 L498.15 147.42 L498.94 147.5 L499.74 147.61 L500.53 147.75 L501.32 147.94 L502.11 148.19 L502.9 148.48 L503.69 148.79 L504.49 149.12 L505.28 149.44 L506.07 149.78 L506.86 150.14 L507.65 150.53 L508.45 150.93 L509.24 151.36 L510.03 151.8 L510.82 152.27 L511.61 152.77 L512.4 153.31 L513.2 153.86 L513.99 154.43 L514.78 155.01 L515.57 155.6 L516.36 156.23 L517.16 156.88 L517.95 157.55 L518.74 158.21 L519.53 158.85 L520.32 159.46 L521.11 160.04 L521.91 160.62 L522.7 161.18 L523.49 161.72 L524.28 162.24 L525.07 162.73 L525.87 163.17 L526.66 163.59 L527.45 163.98 L528.24 164.36 L529.03 164.73 L529.82 165.11 L530.62 165.5 L531.41 165.89 L532.2 166.27 L532.99 166.65 L533.78 167.04 L534.58 167.45 L535.37 167.88 L536.16 168.36 L536.95 168.88 L537.74 169.43 L538.53 169.97 L539.33 170.51 L540.12 171.01 L540.91 171.46 L541.7 171.89 L542.49 172.31 L543.28 172.72 L544.08 173.11 L544.87 173.51 L545.66 173.89 L546.45 174.28 L547.24 174.68 L548.04 175.09 L548.83 175.51 L549.62 175.93 L550.41 176.35 L551.2 176.76 L551.99 177.14 L552.79 177.49 L553.58 177.81 L554.37 178.08 L555.16 178.32 L555.95 178.54 L556.75 178.74 L557.54 178.94 L558.33 179.14 L559.12 179.35 L559.91 179.58 L560.7 179.83 L561.5 180.1 L562.29 180.39 L563.08 180.68 L563.87 180.98 L564.66 181.29 L565.46 181.6 L566.25 181.91 L567.04 182.21 L567.83 182.52 L568.62 182.81 L569.41 183.1 L570.21 183.37 L571 183.63 L571.79 183.88 L572.58 184.12 L573.37 184.37 L574.17 184.6 L574.96 184.84 L575.75 185.07 L576.54 185.29 L577.33 185.52 L578.12 185.74 L578.92 185.96 L579.71 186.17 L580.5 186.39 L581.29 186.6 L582.08 186.81 L582.88 187.02 L583.67 187.23 L584.46 187.44 L585.25 187.65 L586.04 187.86 L586.83 188.06 L587.63 188.26 L588.42 188.47 L589.21 188.67 L590 188.86 L590.79 189.06 L591.59 189.25 L592.38 189.45 L593.17 189.64 L593.96 189.82 L594.75 190.01 L595.54 190.19 L596.34 190.37 L597.13 190.55 L597.92 190.73 L598.71 190.9 L599.5 191.08 L600.29 191.25 L601.09 191.42 L601.88 191.6 L602.67 191.77 L603.46 191.94 L604.25 192.11 L605.05 192.28 L605.84 192.44 L606.63 192.6 L607.42 192.76 L608.21 192.91 L609 193.06 L609.8 193.21 L610.59 193.35 L611.38 193.49 L612.17 193.62 L612.96 193.74 L613.76 193.86 L614.55 193.97 L615.34 194.08 L616.13 194.19 L616.92 194.29 L617.71 194.39 L618.51 194.49 L619.3 194.58 L620.09 194.67 L620.88 194.76 L621.67 194.85 L622.47 194.94 L623.26 195.02 L624.05 195.11 L624.84 195.19 L625.63 195.27 L626.42 195.35 L627.22 195.43 L628.01 195.52 L628.8 195.6 L629.59 195.68 L630.38 195.76 L631.18 195.85 L631.97 195.93 L632.76 196.02 L633.55 196.1 L634.34 196.19 L635.13 196.27 L635.93 196.35 L636.72 196.43 L637.51 196.51 L638.3 196.59 L639.09 196.66 L639.89 196.74 L640.68 196.81 L641.47 196.87 L642.26 196.94 L643.05 197 L643.84 197.05 L644.64 197.1 L645.43 197.15 L646.22 197.19 L647.01 197.23 L647.8 197.27 L648.6 197.31 L649.39 197.35 L650.18 197.39 L650.97 197.42 L651.76 197.45 L652.55 197.49 L653.35 197.52 L654.14 197.55 L654.93 197.58 L655.72 197.61 L656.51 197.63 L657.3 197.66 L658.1 197.68 L658.89 197.71 L659.68 197.73 L660.47 197.75 L661.26 197.77 L662.06 197.79 L662.85 197.81 L663.64 197.83 L664.43 197.85 L665.22 197.87 L666.01 197.89 L666.81 197.91 L667.6 197.93 L668.39 197.95 L669.18 197.96 L669.97 197.98 L670.77 197.99 L671.56 198.01 L672.35 198.02 L673.14 198.04 L673.93 198.05 L674.72 198.06 L675.52 198.07 L676.31 198.08 L677.1 198.09" fill="none" stroke="#6495ed" stroke-width="2.0" stroke-opacity="0.88" stroke-dasharray="10.9 2.7 1.7 2.7" stroke-linejoin="round"/>
<path d="M392.05 197.93 L392.84 197.8 L393.63 197.67 L394.43 197.53 L395.22 197.38 L396.01 197.23 L396.8 197.07 L397.59 196.91 L398.38 196.74 L399.18 196.57 L399.97 196.4 L400.76 196.22 L401.55 196.05 L402.34 195.87 L403.14 195.69 L403.93 195.52 L404.72 195.34 L405.51 195.17 L406.3 195 L407.09 194.84 L407.89 194.67 L408.68 194.52 L409.47 194.36 L410.26 194.21 L411.05 194.07 L411.85 193.92 L412.64 193.78 L413.43 193.64 L414.22 193.5 L415.01 193.36 L415.8 193.22 L416.6 193.08 L417.39 192.94 L418.18 192.79 L418.97 192.64 L419.76 192.49 L420.56 192.34 L421.35 192.18 L422.14 192.02 L422.93 191.86 L423.72 191.7 L424.51 191.54 L425.31 191.37 L426.1 191.21 L426.89 191.04 L427.68 190.87 L428.47 190.7 L429.26 190.52 L430.06 190.35 L430.85 190.17 L431.64 189.99 L432.43 189.8 L433.22 189.6 L434.02 189.41 L434.81 189.21 L435.6 189.01 L436.39 188.81 L437.18 188.61 L437.97 188.42 L438.77 188.23 L439.56 188.05 L440.35 187.88 L441.14 187.71 L441.93 187.55 L442.73 187.39 L443.52 187.23 L444.31 187.07 L445.1 186.91 L445.89 186.76 L446.68 186.61 L447.48 186.46 L448.27 186.33 L449.06 186.2 L449.85 186.08 L450.64 185.97 L451.44 185.87 L452.23 185.78 L453.02 185.69 L453.81 185.61 L454.6 185.53 L455.39 185.45 L456.19 185.38 L456.98 185.31 L457.77 185.25 L458.56 185.18 L459.35 185.12 L460.15 185.06 L460.94 185 L461.73 184.95 L462.52 184.89 L463.31 184.83 L464.1 184.78 L464.9 184.73 L465.69 184.68 L466.48 184.63 L467.27 184.59 L468.06 184.54 L468.86 184.5 L469.65 184.45 L470.44 184.41 L471.23 184.37 L472.02 184.33 L472.81 184.28 L473.61 184.24 L474.4 184.2 L475.19 184.16 L475.98 184.11 L476.77 184.07 L477.56 184.03 L478.36 183.99 L479.15 183.95 L479.94 183.92 L480.73 183.89 L481.52 183.87 L482.32 183.85 L483.11 183.83 L483.9 183.82 L484.69 183.81 L485.48 183.8 L486.27 183.79 L487.07 183.77 L487.86 183.76 L488.65 183.75 L489.44 183.74 L490.23 183.74 L491.03 183.73 L491.82 183.72 L492.61 183.71 L493.4 183.71 L494.19 183.7 L494.98 183.7 L495.78 183.69 L496.57 183.69 L497.36 183.68 L498.15 183.68 L498.94 183.68 L499.74 183.68 L500.53 183.68 L501.32 183.68 L502.11 183.68 L502.9 183.69 L503.69 183.69 L504.49 183.7 L505.28 183.7 L506.07 183.71 L506.86 183.71 L507.65 183.72 L508.45 183.72 L509.24 183.73 L510.03 183.74 L510.82 183.75 L511.61 183.76 L512.4 183.76 L513.2 183.77 L513.99 183.78 L514.78 183.79 L515.57 183.8 L516.36 183.81 L517.16 183.82 L517.95 183.83 L518.74 183.84 L519.53 183.85 L520.32 183.86 L521.11 183.87 L521.91 183.88 L522.7 183.89 L523.49 183.91 L524.28 183.92 L525.07 183.94 L525.87 183.95 L526.66 183.97 L527.45 183.98 L528.24 184 L529.03 184.02 L529.82 184.03 L530.62 184.05 L531.41 184.07 L532.2 184.09 L532.99 184.11 L533.78 184.13 L534.58 184.15 L535.37 184.17 L536.16 184.2 L536.95 184.22 L537.74 184.25 L538.53 184.28 L539.33 184.31 L540.12 184.34 L540.91 184.37 L541.7 184.4 L542.49 184.43 L543.28 184.46 L544.08 184.5 L544.87 184.53 L545.66 184.56 L546.45 184.59 L547.24 184.62 L548.04 184.65 L548.83 184.68 L549.62 184.71 L550.41 184.74 L551.2 184.77 L551.99 184.8 L552.79 184.83 L553.58 184.86 L554.37 184.89 L555.16 184.92 L555.95 184.95 L556.75 184.98 L557.54 185.01 L558.33 185.04 L559.12 185.06 L559.91 185.09 L560.7 185.12 L561.5 185.14 L562.29 185.17 L563.08 185.2 L563.87 185.22 L564.66 185.25 L565.46 185.27 L566.25 185.3 L567.04 185.32 L567.83 185.35 L568.62 185.37 L569.41 185.4 L570.21 185.42 L571 185.44 L571.79 185.47 L572.58 185.49 L573.37 185.51 L574.17 185.53 L574.96 185.56 L575.75 185.58 L576.54 185.6 L577.33 185.62 L578.12 185.64 L578.92 185.66 L579.71 185.68 L580.5 185.7 L581.29 185.72 L582.08 185.75 L582.88 185.77 L583.67 185.79 L584.46 185.81 L585.25 185.82 L586.04 185.84 L586.83 185.86 L587.63 185.88 L588.42 185.9 L589.21 185.92 L590 185.94 L590.79 185.96 L591.59 185.98 L592.38 186 L593.17 186.02 L593.96 186.03 L594.75 186.05 L595.54 186.07 L596.34 186.09 L597.13 186.11 L597.92 186.13 L598.71 186.14 L599.5 186.16 L600.29 186.18 L601.09 186.2 L601.88 186.22 L602.67 186.24 L603.46 186.26 L604.25 186.27 L605.05 186.29 L605.84 186.31 L606.63 186.33 L607.42 186.35 L608.21 186.37 L609 186.39 L609.8 186.4 L610.59 186.42 L611.38 186.44 L612.17 186.46 L612.96 186.48 L613.76 186.5 L614.55 186.52 L615.34 186.54 L616.13 186.56 L616.92 186.58 L617.71 186.6 L618.51 186.61 L619.3 186.63 L620.09 186.65 L620.88 186.67 L621.67 186.69 L622.47 186.71 L623.26 186.73 L624.05 186.74 L624.84 186.76 L625.63 186.78 L626.42 186.8 L627.22 186.82 L628.01 186.84 L628.8 186.86 L629.59 186.87 L630.38 186.89 L631.18 186.91 L631.97 186.93 L632.76 186.95 L633.55 186.97 L634.34 186.99 L635.13 187.01 L635.93 187.03 L636.72 187.05 L637.51 187.07 L638.3 187.09 L639.09 187.11 L639.89 187.13 L640.68 187.15 L641.47 187.17 L642.26 187.19 L643.05 187.22 L643.84 187.24 L644.64 187.26 L645.43 187.28 L646.22 187.31 L647.01 187.33 L647.8 187.35 L648.6 187.38 L649.39 187.4 L650.18 187.42 L650.97 187.45 L651.76 187.47 L652.55 187.5 L653.35 187.52 L654.14 187.55 L654.93 187.57 L655.72 187.6 L656.51 187.63 L657.3 187.65 L658.1 187.68 L658.89 187.71 L659.68 187.73 L660.47 187.76 L661.26 187.79 L662.06 187.82 L662.85 187.84 L663.64 187.87 L664.43 187.9 L665.22 187.93 L666.01 187.96 L666.81 187.99 L667.6 188.02 L668.39 188.04 L669.18 188.07 L669.97 188.1 L670.77 188.13 L671.56 188.16 L672.35 188.19 L673.14 188.22 L673.93 188.25 L674.72 188.29 L675.52 188.32 L676.31 188.35 L677.1 188.38" fill="none" stroke="#ff7f50" stroke-width="2.0" stroke-opacity="0.88" stroke-dasharray="10.9 2.7 1.7 2.7" stroke-linejoin="round"/>
<path d="M392.05 198.4 L392.84 198.4 L393.63 198.4 L394.43 198.4 L395.22 198.4 L396.01 198.4 L396.8 198.4 L397.59 198.4 L398.38 198.4 L399.18 198.4 L399.97 198.4 L400.76 198.4 L401.55 198.4 L402.34 198.4 L403.14 198.4 L403.93 198.4 L404.72 198.4 L405.51 198.4 L406.3 198.4 L407.09 198.4 L407.89 198.4 L408.68 198.4 L409.47 198.4 L410.26 198.4 L411.05 198.4 L411.85 198.4 L412.64 198.4 L413.43 198.4 L414.22 198.4 L415.01 198.4 L415.8 198.4 L416.6 198.4 L417.39 198.4 L418.18 198.4 L418.97 198.4 L419.76 198.4 L420.56 198.4 L421.35 198.4 L422.14 198.4 L422.93 198.4 L423.72 198.4 L424.51 198.4 L425.31 198.4 L426.1 198.4 L426.89 198.4 L427.68 198.4 L428.47 198.4 L429.26 198.39 L430.06 198.35 L430.85 198.3 L431.64 198.22 L432.43 198.13 L433.22 198.03 L434.02 197.91 L434.81 197.79 L435.6 197.66 L436.39 197.52 L437.18 197.38 L437.97 197.2 L438.77 196.98 L439.56 196.73 L440.35 196.44 L441.14 196.13 L441.93 195.79 L442.73 195.42 L443.52 195.02 L444.31 194.55 L445.1 193.99 L445.89 193.36 L446.68 192.66 L447.48 191.87 L448.27 190.9 L449.06 189.77 L449.85 188.5 L450.64 187.17 L451.44 185.82 L452.23 184.45 L453.02 183.01 L453.81 181.49 L454.6 179.86 L455.39 178.1 L456.19 176.15 L456.98 173.95 L457.77 171.56 L458.56 169.06 L459.35 166.49 L460.15 163.9 L460.94 161.14 L461.73 158.27 L462.52 155.38 L463.31 152.56 L464.1 149.92 L464.9 147.44 L465.69 145.06 L466.48 142.74 L467.27 140.43 L468.06 138.09 L468.86 135.65 L469.65 133.11 L470.44 130.59 L471.23 128.18 L472.02 125.99 L472.81 124.07 L473.61 122.25 L474.4 120.55 L475.19 119 L475.98 117.65 L476.77 116.53 L477.56 115.56 L478.36 114.7 L479.15 113.93 L479.94 113.23 L480.73 112.59 L481.52 111.92 L482.32 111.26 L483.11 110.75 L483.9 110.56 L484.69 110.65 L485.48 110.87 L486.27 111.17 L487.07 111.53 L487.86 112.05 L488.65 112.81 L489.44 113.7 L490.23 114.64 L491.03 115.53 L491.82 116.32 L492.61 117.09 L493.4 117.86 L494.19 118.66 L494.98 119.49 L495.78 120.39 L496.57 121.35 L497.36 122.37 L498.15 123.42 L498.94 124.5 L499.74 125.6 L500.53 126.69 L501.32 127.77 L502.11 128.83 L502.9 129.86 L503.69 130.87 L504.49 131.9 L505.28 132.95 L506.07 134.04 L506.86 135.19 L507.65 136.4 L508.45 137.66 L509.24 138.97 L510.03 140.32 L510.82 141.71 L511.61 143.14 L512.4 144.6 L513.2 146.17 L513.99 147.8 L514.78 149.44 L515.57 151.06 L516.36 152.62 L517.16 154.07 L517.95 155.44 L518.74 156.75 L519.53 158.03 L520.32 159.3 L521.11 160.57 L521.91 161.86 L522.7 163.19 L523.49 164.54 L524.28 165.89 L525.07 167.24 L525.87 168.57 L526.66 169.86 L527.45 171.13 L528.24 172.4 L529.03 173.68 L529.82 174.94 L530.62 176.17 L531.41 177.36 L532.2 178.5 L532.99 179.56 L533.78 180.54 L534.58 181.47 L535.37 182.35 L536.16 183.18 L536.95 183.99 L537.74 184.76 L538.53 185.5 L539.33 186.21 L540.12 186.91 L540.91 187.58 L541.7 188.24 L542.49 188.88 L543.28 189.5 L544.08 190.1 L544.87 190.67 L545.66 191.22 L546.45 191.74 L547.24 192.23 L548.04 192.71 L548.83 193.18 L549.62 193.63 L550.41 194.07 L551.2 194.48 L551.99 194.86 L552.79 195.2 L553.58 195.5 L554.37 195.77 L555.16 196.02 L555.95 196.25 L556.75 196.47 L557.54 196.67 L558.33 196.85 L559.12 197 L559.91 197.13 L560.7 197.25 L561.5 197.36 L562.29 197.46 L563.08 197.56 L563.87 197.65 L564.66 197.74 L565.46 197.82 L566.25 197.89 L567.04 197.95 L567.83 198 L568.62 198.05 L569.41 198.09 L570.21 198.12 L571 198.15 L571.79 198.18 L572.58 198.21 L573.37 198.24 L574.17 198.26 L574.96 198.29 L575.75 198.31 L576.54 198.33 L577.33 198.35 L578.12 198.36 L578.92 198.38 L579.71 198.39 L580.5 198.39 L581.29 198.4 L582.08 198.4 L582.88 198.4 L583.67 198.4 L584.46 198.4 L585.25 198.4 L586.04 198.4 L586.83 198.4 L587.63 198.4 L588.42 198.4 L589.21 198.4 L590 198.4 L590.79 198.4 L591.59 198.4 L592.38 198.4 L593.17 198.4 L593.96 198.4 L594.75 198.4 L595.54 198.4 L596.34 198.4 L597.13 198.4 L597.92 198.4 L598.71 198.4 L599.5 198.4 L600.29 198.4 L601.09 198.4 L601.88 198.4 L602.67 198.4 L603.46 198.4 L604.25 198.4 L605.05 198.4 L605.84 198.4 L606.63 198.4 L607.42 198.4 L608.21 198.4 L609 198.4 L609.8 198.4 L610.59 198.4 L611.38 198.4 L612.17 198.4 L612.96 198.4 L613.76 198.4 L614.55 198.4 L615.34 198.4 L616.13 198.4 L616.92 198.4 L617.71 198.4 L618.51 198.4 L619.3 198.4 L620.09 198.4 L620.88 198.4 L621.67 198.4 L622.47 198.4 L623.26 198.4 L624.05 198.4 L624.84 198.4 L625.63 198.4 L626.42 198.4 L627.22 198.4 L628.01 198.4 L628.8 198.4 L629.59 198.4 L630.38 198.4 L631.18 198.4 L631.97 198.4 L632.76 198.4 L633.55 198.4 L634.34 198.4 L635.13 198.4 L635.93 198.4 L636.72 198.4 L637.51 198.4 L638.3 198.4 L639.09 198.4 L639.89 198.4 L640.68 198.4 L641.47 198.4 L642.26 198.4 L643.05 198.4 L643.84 198.4 L644.64 198.4 L645.43 198.4 L646.22 198.4 L647.01 198.4 L647.8 198.4 L648.6 198.4 L649.39 198.4 L650.18 198.4 L650.97 198.4 L651.76 198.4 L652.55 198.4 L653.35 198.4 L654.14 198.4 L654.93 198.4 L655.72 198.4 L656.51 198.4 L657.3 198.4 L658.1 198.4 L658.89 198.4 L659.68 198.4 L660.47 198.4 L661.26 198.4 L662.06 198.4 L662.85 198.4 L663.64 198.4 L664.43 198.4 L665.22 198.4 L666.01 198.4 L666.81 198.4 L667.6 198.4 L668.39 198.4 L669.18 198.4 L669.97 198.4 L670.77 198.4 L671.56 198.4 L672.35 198.4 L673.14 198.4 L673.93 198.4 L674.72 198.4 L675.52 198.4 L676.31 198.4 L677.1 198.4" fill="none" stroke="#90ee90" stroke-width="2.0" stroke-opacity="0.88" stroke-dasharray="10.9 2.7 1.7 2.7" stroke-linejoin="round"/>
<path d="M392.05 198.4 L392.84 198.4 L393.63 198.4 L394.43 198.4 L395.22 198.4 L396.01 198.4 L396.8 198.4 L397.59 198.4 L398.38 198.4 L399.18 198.4 L399.97 198.4 L400.76 198.4 L401.55 198.4 L402.34 198.4 L403.14 198.4 L403.93 198.4 L404.72 198.4 L405.51 198.4 L406.3 198.4 L407.09 198.4 L407.89 198.4 L408.68 198.4 L409.47 198.4 L410.26 198.4 L411.05 198.4 L411.85 198.4 L412.64 198.4 L413.43 198.4 L414.22 198.4 L415.01 198.4 L415.8 198.4 L416.6 198.4 L417.39 198.4 L418.18 198.4 L418.97 198.4 L419.76 198.4 L420.56 198.4 L421.35 198.4 L422.14 198.4 L422.93 198.4 L423.72 198.4 L424.51 198.4 L425.31 198.4 L426.1 198.4 L426.89 198.4 L427.68 198.4 L428.47 198.4 L429.26 198.4 L430.06 198.4 L430.85 198.4 L431.64 198.4 L432.43 198.4 L433.22 198.4 L434.02 198.4 L434.81 198.4 L435.6 198.4 L436.39 198.4 L437.18 198.38 L437.97 198.33 L438.77 198.25 L439.56 198.14 L440.35 198.01 L441.14 197.86 L441.93 197.7 L442.73 197.53 L443.52 197.34 L444.31 197.09 L445.1 196.77 L445.89 196.4 L446.68 195.98 L447.48 195.52 L448.27 195.03 L449.06 194.5 L449.85 193.94 L450.64 193.28 L451.44 192.52 L452.23 191.67 L453.02 190.72 L453.81 189.66 L454.6 188.39 L455.39 186.92 L456.19 185.28 L456.98 183.51 L457.77 181.65 L458.56 179.59 L459.35 177.28 L460.15 174.8 L460.94 172.23 L461.73 169.63 L462.52 167.02 L463.31 164.31 L464.1 161.52 L464.9 158.71 L465.69 155.89 L466.48 153.1 L467.27 150.26 L468.06 147.39 L468.86 144.57 L469.65 141.83 L470.44 139.23 L471.23 136.73 L472.02 134.31 L472.81 131.96 L473.61 129.68 L474.4 127.48 L475.19 125.29 L475.98 123.08 L476.77 120.94 L477.56 118.99 L478.36 117.33 L479.15 115.98 L479.94 114.75 L480.73 113.64 L481.52 112.68 L482.32 111.9 L483.11 111.29 L483.9 110.74 L484.69 110.24 L485.48 109.82 L486.27 109.55 L487.07 109.46 L487.86 109.52 L488.65 109.68 L489.44 109.91 L490.23 110.18 L491.03 110.48 L491.82 110.84 L492.61 111.33 L493.4 111.93 L494.19 112.6 L494.98 113.31 L495.78 114.04 L496.57 114.82 L497.36 115.68 L498.15 116.61 L498.94 117.64 L499.74 118.78 L500.53 120.21 L501.32 121.85 L502.11 123.54 L502.9 125.12 L503.69 126.54 L504.49 127.92 L505.28 129.26 L506.07 130.58 L506.86 131.91 L507.65 133.23 L508.45 134.53 L509.24 135.83 L510.03 137.13 L510.82 138.42 L511.61 139.73 L512.4 141.05 L513.2 142.38 L513.99 143.71 L514.78 145.05 L515.57 146.38 L516.36 147.71 L517.16 149.03 L517.95 150.34 L518.74 151.64 L519.53 152.94 L520.32 154.24 L521.11 155.54 L521.91 156.85 L522.7 158.17 L523.49 159.5 L524.28 160.84 L525.07 162.17 L525.87 163.5 L526.66 164.83 L527.45 166.16 L528.24 167.51 L529.03 168.87 L529.82 170.22 L530.62 171.53 L531.41 172.79 L532.2 173.99 L532.99 175.13 L533.78 176.23 L534.58 177.29 L535.37 178.33 L536.16 179.33 L536.95 180.32 L537.74 181.28 L538.53 182.24 L539.33 183.19 L540.12 184.12 L540.91 185.02 L541.7 185.89 L542.49 186.72 L543.28 187.5 L544.08 188.23 L544.87 188.93 L545.66 189.63 L546.45 190.29 L547.24 190.93 L548.04 191.53 L548.83 192.09 L549.62 192.6 L550.41 193.06 L551.2 193.48 L551.99 193.88 L552.79 194.26 L553.58 194.61 L554.37 194.94 L555.16 195.24 L555.95 195.52 L556.75 195.77 L557.54 196 L558.33 196.22 L559.12 196.43 L559.91 196.63 L560.7 196.82 L561.5 197 L562.29 197.16 L563.08 197.32 L563.87 197.45 L564.66 197.58 L565.46 197.68 L566.25 197.77 L567.04 197.85 L567.83 197.93 L568.62 198.01 L569.41 198.08 L570.21 198.14 L571 198.21 L571.79 198.26 L572.58 198.31 L573.37 198.35 L574.17 198.38 L574.96 198.39 L575.75 198.4 L576.54 198.4 L577.33 198.4 L578.12 198.4 L578.92 198.4 L579.71 198.4 L580.5 198.4 L581.29 198.4 L582.08 198.4 L582.88 198.4 L583.67 198.4 L584.46 198.4 L585.25 198.4 L586.04 198.4 L586.83 198.4 L587.63 198.4 L588.42 198.4 L589.21 198.4 L590 198.4 L590.79 198.4 L591.59 198.4 L592.38 198.4 L593.17 198.4 L593.96 198.4 L594.75 198.4 L595.54 198.4 L596.34 198.4 L597.13 198.4 L597.92 198.4 L598.71 198.4 L599.5 198.4 L600.29 198.4 L601.09 198.4 L601.88 198.4 L602.67 198.4 L603.46 198.4 L604.25 198.4 L605.05 198.4 L605.84 198.4 L606.63 198.4 L607.42 198.4 L608.21 198.4 L609 198.4 L609.8 198.4 L610.59 198.4 L611.38 198.4 L612.17 198.4 L612.96 198.4 L613.76 198.4 L614.55 198.4 L615.34 198.4 L616.13 198.4 L616.92 198.4 L617.71 198.4 L618.51 198.4 L619.3 198.4 L620.09 198.4 L620.88 198.4 L621.67 198.4 L622.47 198.4 L623.26 198.4 L624.05 198.4 L624.84 198.4 L625.63 198.4 L626.42 198.4 L627.22 198.4 L628.01 198.4 L628.8 198.4 L629.59 198.4 L630.38 198.4 L631.18 198.4 L631.97 198.4 L632.76 198.4 L633.55 198.4 L634.34 198.4 L635.13 198.4 L635.93 198.4 L636.72 198.4 L637.51 198.4 L638.3 198.4 L639.09 198.4 L639.89 198.4 L640.68 198.4 L641.47 198.4 L642.26 198.4 L643.05 198.4 L643.84 198.4 L644.64 198.4 L645.43 198.4 L646.22 198.4 L647.01 198.4 L647.8 198.4 L648.6 198.4 L649.39 198.4 L650.18 198.4 L650.97 198.4 L651.76 198.4 L652.55 198.4 L653.35 198.4 L654.14 198.4 L654.93 198.4 L655.72 198.4 L656.51 198.4 L657.3 198.4 L658.1 198.4 L658.89 198.4 L659.68 198.4 L660.47 198.4 L661.26 198.4 L662.06 198.4 L662.85 198.4 L663.64 198.4 L664.43 198.4 L665.22 198.4 L666.01 198.4 L666.81 198.4 L667.6 198.4 L668.39 198.4 L669.18 198.4 L669.97 198.4 L670.77 198.4 L671.56 198.4 L672.35 198.4 L673.14 198.4 L673.93 198.4 L674.72 198.4 L675.52 198.4 L676.31 198.4 L677.1 198.4" fill="none" stroke="#ffc0cb" stroke-width="2.0" stroke-opacity="0.88" stroke-dasharray="10.9 2.7 1.7 2.7" stroke-linejoin="round"/>
<path d="M392.05 198.4 L392.84 198.4 L393.63 198.4 L394.43 198.4 L395.22 198.4 L396.01 198.4 L396.8 198.4 L397.59 198.4 L398.38 198.4 L399.18 198.4 L399.97 198.4 L400.76 198.4 L401.55 198.4 L402.34 198.4 L403.14 198.4 L403.93 198.4 L404.72 198.4 L405.51 198.4 L406.3 198.4 L407.09 198.4 L407.89 198.4 L408.68 198.4 L409.47 198.4 L410.26 198.4 L411.05 198.4 L411.85 198.4 L412.64 198.4 L413.43 198.4 L414.22 198.4 L415.01 198.4 L415.8 198.4 L416.6 198.4 L417.39 198.4 L418.18 198.4 L418.97 198.4 L419.76 198.4 L420.56 198.4 L421.35 198.4 L422.14 198.4 L422.93 198.4 L423.72 198.4 L424.51 198.4 L425.31 198.4 L426.1 198.4 L426.89 198.4 L427.68 198.4 L428.47 198.4 L429.26 198.4 L430.06 198.4 L430.85 198.4 L431.64 198.4 L432.43 198.4 L433.22 198.4 L434.02 198.4 L434.81 198.4 L435.6 198.4 L436.39 198.4 L437.18 198.4 L437.97 198.4 L438.77 198.4 L439.56 198.4 L440.35 198.4 L441.14 198.4 L441.93 198.4 L442.73 198.4 L443.52 198.4 L444.31 198.4 L445.1 198.4 L445.89 198.4 L446.68 198.4 L447.48 198.4 L448.27 198.4 L449.06 198.4 L449.85 198.4 L450.64 198.4 L451.44 198.4 L452.23 198.4 L453.02 198.4 L453.81 198.4 L454.6 198.4 L455.39 198.4 L456.19 198.4 L456.98 198.4 L457.77 198.4 L458.56 198.4 L459.35 198.4 L460.15 198.4 L460.94 198.4 L461.73 198.4 L462.52 198.4 L463.31 198.4 L464.1 198.38 L464.9 198.33 L465.69 198.25 L466.48 198.15 L467.27 198.04 L468.06 197.93 L468.86 197.81 L469.65 197.68 L470.44 197.54 L471.23 197.36 L472.02 197.17 L472.81 196.94 L473.61 196.67 L474.4 196.36 L475.19 195.91 L475.98 195.25 L476.77 194.42 L477.56 193.47 L478.36 192.45 L479.15 191.39 L479.94 190.18 L480.73 188.8 L481.52 187.28 L482.32 185.62 L483.11 183.84 L483.9 181.85 L484.69 179.59 L485.48 177.13 L486.27 174.51 L487.07 171.79 L487.86 168.84 L488.65 165.67 L489.44 162.37 L490.23 159.02 L491.03 155.71 L491.82 152.4 L492.61 148.94 L493.4 145.16 L494.19 140.68 L494.98 135.83 L495.78 131.46 L496.57 127.54 L497.36 123.81 L498.15 120.11 L498.94 116.4 L499.74 112.76 L500.53 109.15 L501.32 105.54 L502.11 101.97 L502.9 98.52 L503.69 95.26 L504.49 92.12 L505.28 89.11 L506.07 86.23 L506.86 83.52 L507.65 80.99 L508.45 78.59 L509.24 76.3 L510.03 74.05 L510.82 71.77 L511.61 69.51 L512.4 67.49 L513.2 65.78 L513.99 64.07 L514.78 62.72 L515.57 62.17 L516.36 62.39 L517.16 62.94 L517.95 63.65 L518.74 64.86 L519.53 66.58 L520.32 68.61 L521.11 71.28 L521.91 74.65 L522.7 78.32 L523.49 82.2 L524.28 86.51 L525.07 91.11 L525.87 96.05 L526.66 101.4 L527.45 107.26 L528.24 113.84 L529.03 121.76 L529.82 129.46 L530.62 135.26 L531.41 140.24 L532.2 144.87 L532.99 149.12 L533.78 153.14 L534.58 157.24 L535.37 161.64 L536.16 166.06 L536.95 170.08 L537.74 173.7 L538.53 177.07 L539.33 179.8 L540.12 181.74 L540.91 183.37 L541.7 184.74 L542.49 185.86 L543.28 186.74 L544.08 187.47 L544.87 188.09 L545.66 188.65 L546.45 189.18 L547.24 189.75 L548.04 190.32 L548.83 190.89 L549.62 191.44 L550.41 191.98 L551.2 192.5 L551.99 193 L552.79 193.48 L553.58 193.95 L554.37 194.41 L555.16 194.86 L555.95 195.28 L556.75 195.69 L557.54 196.08 L558.33 196.48 L559.12 196.84 L559.91 197.12 L560.7 197.33 L561.5 197.52 L562.29 197.7 L563.08 197.86 L563.87 198 L564.66 198.11 L565.46 198.19 L566.25 198.24 L567.04 198.28 L567.83 198.31 L568.62 198.33 L569.41 198.36 L570.21 198.37 L571 198.39 L571.79 198.4 L572.58 198.4 L573.37 198.4 L574.17 198.4 L574.96 198.4 L575.75 198.4 L576.54 198.4 L577.33 198.4 L578.12 198.4 L578.92 198.4 L579.71 198.4 L580.5 198.4 L581.29 198.4 L582.08 198.4 L582.88 198.4 L583.67 198.4 L584.46 198.4 L585.25 198.4 L586.04 198.4 L586.83 198.4 L587.63 198.4 L588.42 198.4 L589.21 198.4 L590 198.4 L590.79 198.4 L591.59 198.4 L592.38 198.4 L593.17 198.4 L593.96 198.4 L594.75 198.4 L595.54 198.4 L596.34 198.4 L597.13 198.4 L597.92 198.4 L598.71 198.4 L599.5 198.4 L600.29 198.4 L601.09 198.4 L601.88 198.4 L602.67 198.4 L603.46 198.4 L604.25 198.4 L605.05 198.4 L605.84 198.4 L606.63 198.4 L607.42 198.4 L608.21 198.4 L609 198.4 L609.8 198.4 L610.59 198.4 L611.38 198.4 L612.17 198.4 L612.96 198.4 L613.76 198.4 L614.55 198.4 L615.34 198.4 L616.13 198.4 L616.92 198.4 L617.71 198.4 L618.51 198.4 L619.3 198.4 L620.09 198.4 L620.88 198.4 L621.67 198.4 L622.47 198.4 L623.26 198.4 L624.05 198.4 L624.84 198.4 L625.63 198.4 L626.42 198.4 L627.22 198.4 L628.01 198.4 L628.8 198.4 L629.59 198.4 L630.38 198.4 L631.18 198.4 L631.97 198.4 L632.76 198.4 L633.55 198.4 L634.34 198.4 L635.13 198.4 L635.93 198.4 L636.72 198.4 L637.51 198.4 L638.3 198.4 L639.09 198.4 L639.89 198.4 L640.68 198.4 L641.47 198.4 L642.26 198.4 L643.05 198.4 L643.84 198.4 L644.64 198.4 L645.43 198.4 L646.22 198.4 L647.01 198.4 L647.8 198.4 L648.6 198.4 L649.39 198.4 L650.18 198.4 L650.97 198.4 L651.76 198.4 L652.55 198.4 L653.35 198.4 L654.14 198.4 L654.93 198.4 L655.72 198.4 L656.51 198.4 L657.3 198.4 L658.1 198.4 L658.89 198.4 L659.68 198.4 L660.47 198.4 L661.26 198.4 L662.06 198.4 L662.85 198.4 L663.64 198.4 L664.43 198.4 L665.22 198.4 L666.01 198.4 L666.81 198.4 L667.6 198.4 L668.39 198.4 L669.18 198.4 L669.97 198.4 L670.77 198.4 L671.56 198.4 L672.35 198.4 L673.14 198.4 L673.93 198.4 L674.72 198.4 L675.52 198.4 L676.31 198.4 L677.1 198.4" fill="none" stroke="#2a2a2a" stroke-width="2.1" stroke-linejoin="round"/>
</g>
<rect x="392.05" y="10.5" width="285.05" height="187.9" fill="none" stroke="#333333" stroke-width="1.2"/>
<line x1="392.05" y1="198.4" x2="392.05" y2="201" stroke="#333333" stroke-width="1.1"/>
<text x="392.05" y="213" text-anchor="middle" font-size="10">30</text>
<line x1="423.72" y1="198.4" x2="423.72" y2="201" stroke="#333333" stroke-width="1.1"/>
<text x="423.72" y="213" text-anchor="middle" font-size="10">40</text>
<line x1="455.39" y1="198.4" x2="455.39" y2="201" stroke="#333333" stroke-width="1.1"/>
<text x="455.39" y="213" text-anchor="middle" font-size="10">50</text>
<line x1="487.07" y1="198.4" x2="487.07" y2="201" stroke="#333333" stroke-width="1.1"/>
<text x="487.07" y="213" text-anchor="middle" font-size="10">60</text>
<line x1="518.74" y1="198.4" x2="518.74" y2="201" stroke="#333333" stroke-width="1.1"/>
<text x="518.74" y="213" text-anchor="middle" font-size="10">70</text>
<line x1="550.41" y1="198.4" x2="550.41" y2="201" stroke="#333333" stroke-width="1.1"/>
<text x="550.41" y="213" text-anchor="middle" font-size="10">80</text>
<line x1="582.08" y1="198.4" x2="582.08" y2="201" stroke="#333333" stroke-width="1.1"/>
<text x="582.08" y="213" text-anchor="middle" font-size="10">90</text>
<line x1="613.76" y1="198.4" x2="613.76" y2="201" stroke="#333333" stroke-width="1.1"/>
<text x="613.76" y="213" text-anchor="middle" font-size="10">100</text>
<line x1="645.43" y1="198.4" x2="645.43" y2="201" stroke="#333333" stroke-width="1.1"/>
<text x="645.43" y="213" text-anchor="middle" font-size="10">110</text>
<line x1="677.1" y1="198.4" x2="677.1" y2="201" stroke="#333333" stroke-width="1.1"/>
<text x="677.1" y="213" text-anchor="middle" font-size="10">120</text>
<line x1="389.45" y1="198.4" x2="392.05" y2="198.4" stroke="#333333" stroke-width="1.1"/>
<text x="385.05" y="202.1" text-anchor="end" font-size="10">0.00</text>
<line x1="389.45" y1="167.08" x2="392.05" y2="167.08" stroke="#333333" stroke-width="1.1"/>
<text x="385.05" y="170.78" text-anchor="end" font-size="10">0.02</text>
<line x1="389.45" y1="135.77" x2="392.05" y2="135.77" stroke="#333333" stroke-width="1.1"/>
<text x="385.05" y="139.47" text-anchor="end" font-size="10">0.04</text>
<line x1="389.45" y1="104.45" x2="392.05" y2="104.45" stroke="#333333" stroke-width="1.1"/>
<text x="385.05" y="108.15" text-anchor="end" font-size="10">0.06</text>
<line x1="389.45" y1="73.13" x2="392.05" y2="73.13" stroke="#333333" stroke-width="1.1"/>
<text x="385.05" y="76.83" text-anchor="end" font-size="10">0.08</text>
<line x1="389.45" y1="41.82" x2="392.05" y2="41.82" stroke="#333333" stroke-width="1.1"/>
<text x="385.05" y="45.52" text-anchor="end" font-size="10">0.10</text>
<line x1="389.45" y1="10.5" x2="392.05" y2="10.5" stroke="#333333" stroke-width="1.1"/>
<text x="385.05" y="14.2" text-anchor="end" font-size="10">0.12</text>
<text x="535.08" y="230.2" text-anchor="middle" font-size="10"><tspan font-style="italic">H</tspan><tspan font-size="6.60" dy="2.8">0</tspan><tspan dy="-2.8"> [km s</tspan><tspan font-size="6.60" dy="-4.3">−1</tspan><tspan dy="4.3"> Mpc</tspan><tspan font-size="6.60" dy="-4.3">−1</tspan><tspan dy="4.3">]</tspan></text>
<text transform="translate(356.75,104.45) rotate(-90)" text-anchor="middle" font-size="10">Probability</text>
<text x="349.25" y="10.2" font-size="14.5" font-weight="bold">b</text>
<rect x="579.35" y="15" width="92.9" height="108.1" rx="2" fill="#fff" fill-opacity="0.8" stroke="#cccccc" stroke-width="0.9"/>
<line x1="583.05" y1="21.8" x2="601.45" y2="21.8" stroke="#6495ed" stroke-width="2.0" stroke-opacity="0.88" stroke-dasharray="10.9 2.7 1.7 2.7"/>
<text x="606.65" y="25.2" font-size="9.85">GRB060614</text>
<line x1="583.05" y1="35.17" x2="601.45" y2="35.17" stroke="#ff7f50" stroke-width="2.0" stroke-opacity="0.88" stroke-dasharray="10.9 2.7 1.7 2.7"/>
<text x="606.65" y="38.57" font-size="9.85">GRB150101B</text>
<line x1="583.05" y1="48.54" x2="601.45" y2="48.54" stroke="#90ee90" stroke-width="2.0" stroke-opacity="0.88" stroke-dasharray="10.9 2.7 1.7 2.7"/>
<text x="606.65" y="51.94" font-size="9.85">GRB050709</text>
<line x1="583.05" y1="61.91" x2="601.45" y2="61.91" stroke="#ffc0cb" stroke-width="2.0" stroke-opacity="0.88" stroke-dasharray="10.9 2.7 1.7 2.7"/>
<text x="606.65" y="65.31" font-size="9.85">GRB160821B</text>
<line x1="582.05" y1="75.28" x2="601.75" y2="75.28" stroke="#2a2a2a" stroke-width="2.4" stroke-opacity="0.9"/>
<text x="606.65" y="78.68" font-size="9.85">Combined</text>
<line x1="582.05" y1="88.65" x2="601.75" y2="88.65" stroke="#9fd79f" stroke-width="1.1"/>
<text x="606.65" y="92.05" font-size="9.85">Planck</text>
<line x1="582.05" y1="102.02" x2="601.75" y2="102.02" stroke="#f5a0a0" stroke-width="1.1"/>
<text x="606.65" y="105.42" font-size="9.85">SHoES</text>
<line x1="582.05" y1="115.39" x2="601.75" y2="115.39" stroke="#a6e6ec" stroke-width="1.1"/>
<text x="606.65" y="118.79" font-size="9.85">Superluminal</text>
</g>
<g id="pc">
<clipPath id="cc"><rect x="42.1" y="255.6" width="285.05" height="187.9"/></clipPath>
<g clip-path="url(#cc)">
<rect x="158.69" y="255.6" width="7.22" height="187.9" fill="#008000" fill-opacity="0.55"/>
<rect x="158.69" y="255.6" width="4.4" height="187.9" fill="#008000" fill-opacity="0.8"/>
<rect x="172.59" y="255.6" width="18.5" height="187.9" fill="#ff0000" fill-opacity="0.5"/>
<rect x="175.79" y="255.6" width="10.9" height="187.9" fill="#ff0000" fill-opacity="0.8"/>
<rect x="135.37" y="255.6" width="59.29" height="187.9" fill="#00bfbf" fill-opacity="0.1"/>
<rect x="149.98" y="255.6" width="30.6" height="187.9" fill="#00bfbf" fill-opacity="0.289"/>
<line x1="73.77" y1="255.6" x2="73.77" y2="443.5" stroke="#bababa" stroke-width="1.2"/>
<line x1="105.44" y1="255.6" x2="105.44" y2="443.5" stroke="#bababa" stroke-width="1.2"/>
<line x1="137.12" y1="255.6" x2="137.12" y2="443.5" stroke="#bababa" stroke-width="1.2"/>
<line x1="168.79" y1="255.6" x2="168.79" y2="443.5" stroke="#bababa" stroke-width="1.2"/>
<line x1="200.46" y1="255.6" x2="200.46" y2="443.5" stroke="#bababa" stroke-width="1.2"/>
<line x1="232.13" y1="255.6" x2="232.13" y2="443.5" stroke="#bababa" stroke-width="1.2"/>
<line x1="263.81" y1="255.6" x2="263.81" y2="443.5" stroke="#bababa" stroke-width="1.2"/>
<line x1="295.48" y1="255.6" x2="295.48" y2="443.5" stroke="#bababa" stroke-width="1.2"/>
<line x1="42.1" y1="412.18" x2="327.15" y2="412.18" stroke="#bababa" stroke-width="1.2"/>
<line x1="42.1" y1="380.87" x2="327.15" y2="380.87" stroke="#bababa" stroke-width="1.2"/>
<line x1="42.1" y1="349.55" x2="327.15" y2="349.55" stroke="#bababa" stroke-width="1.2"/>
<line x1="42.1" y1="318.23" x2="327.15" y2="318.23" stroke="#bababa" stroke-width="1.2"/>
<line x1="42.1" y1="286.92" x2="327.15" y2="286.92" stroke="#bababa" stroke-width="1.2"/>
<path d="M42.1 443.03 L42.89 442.88 L43.68 442.72 L44.48 442.53 L45.27 442.33 L46.06 442.12 L46.85 441.9 L47.64 441.67 L48.43 441.44 L49.23 441.19 L50.02 440.94 L50.81 440.68 L51.6 440.42 L52.39 440.16 L53.19 439.9 L53.98 439.63 L54.77 439.37 L55.56 439.1 L56.35 438.84 L57.14 438.58 L57.94 438.32 L58.73 438.07 L59.52 437.82 L60.31 437.58 L61.1 437.33 L61.9 437.09 L62.69 436.85 L63.48 436.6 L64.27 436.36 L65.06 436.12 L65.85 435.87 L66.65 435.63 L67.44 435.38 L68.23 435.13 L69.02 434.88 L69.81 434.63 L70.61 434.37 L71.4 434.12 L72.19 433.85 L72.98 433.59 L73.77 433.32 L74.56 433.05 L75.36 432.77 L76.15 432.5 L76.94 432.21 L77.73 431.93 L78.52 431.64 L79.31 431.35 L80.11 431.06 L80.9 430.76 L81.69 430.47 L82.48 430.17 L83.27 429.87 L84.07 429.57 L84.86 429.27 L85.65 428.96 L86.44 428.66 L87.23 428.35 L88.02 428.05 L88.82 427.75 L89.61 427.44 L90.4 427.13 L91.19 426.82 L91.98 426.5 L92.78 426.18 L93.57 425.86 L94.36 425.53 L95.15 425.21 L95.94 424.88 L96.73 424.55 L97.53 424.23 L98.32 423.9 L99.11 423.58 L99.9 423.26 L100.69 422.94 L101.49 422.62 L102.28 422.31 L103.07 422 L103.86 421.7 L104.65 421.4 L105.44 421.11 L106.24 420.82 L107.03 420.54 L107.82 420.27 L108.61 420 L109.4 419.73 L110.2 419.47 L110.99 419.21 L111.78 418.95 L112.57 418.7 L113.36 418.44 L114.15 418.18 L114.95 417.93 L115.74 417.67 L116.53 417.41 L117.32 417.15 L118.11 416.89 L118.91 416.62 L119.7 416.35 L120.49 416.07 L121.28 415.78 L122.07 415.49 L122.86 415.18 L123.66 414.86 L124.45 414.54 L125.24 414.21 L126.03 413.89 L126.82 413.57 L127.62 413.26 L128.41 412.97 L129.2 412.7 L129.99 412.45 L130.78 412.21 L131.57 411.99 L132.37 411.77 L133.16 411.57 L133.95 411.37 L134.74 411.17 L135.53 410.98 L136.32 410.8 L137.12 410.62 L137.91 410.43 L138.7 410.24 L139.49 410.05 L140.28 409.86 L141.08 409.67 L141.87 409.48 L142.66 409.29 L143.45 409.12 L144.24 408.95 L145.03 408.79 L145.83 408.65 L146.62 408.52 L147.41 408.42 L148.2 408.33 L148.99 408.26 L149.79 408.2 L150.58 408.14 L151.37 408.08 L152.16 408.03 L152.95 407.98 L153.74 407.93 L154.54 407.89 L155.33 407.86 L156.12 407.83 L156.91 407.81 L157.7 407.8 L158.5 407.8 L159.29 407.82 L160.08 407.86 L160.87 407.92 L161.66 407.99 L162.45 408.09 L163.25 408.2 L164.04 408.33 L164.83 408.46 L165.62 408.61 L166.41 408.77 L167.21 408.93 L168 409.09 L168.79 409.26 L169.58 409.43 L170.37 409.61 L171.16 409.81 L171.96 410.05 L172.75 410.32 L173.54 410.61 L174.33 410.92 L175.12 411.25 L175.92 411.6 L176.71 411.95 L177.5 412.32 L178.29 412.68 L179.08 413.04 L179.87 413.4 L180.67 413.75 L181.46 414.08 L182.25 414.4 L183.04 414.7 L183.83 414.99 L184.62 415.28 L185.42 415.57 L186.21 415.86 L187 416.14 L187.79 416.42 L188.58 416.7 L189.38 416.98 L190.17 417.26 L190.96 417.54 L191.75 417.82 L192.54 418.1 L193.33 418.39 L194.13 418.67 L194.92 418.97 L195.71 419.26 L196.5 419.57 L197.29 419.88 L198.09 420.19 L198.88 420.5 L199.67 420.82 L200.46 421.14 L201.25 421.46 L202.04 421.78 L202.84 422.1 L203.63 422.41 L204.42 422.72 L205.21 423.02 L206 423.31 L206.8 423.6 L207.59 423.88 L208.38 424.16 L209.17 424.42 L209.96 424.69 L210.75 424.95 L211.55 425.21 L212.34 425.47 L213.13 425.72 L213.92 425.97 L214.71 426.21 L215.51 426.46 L216.3 426.69 L217.09 426.93 L217.88 427.16 L218.67 427.39 L219.46 427.61 L220.26 427.83 L221.05 428.05 L221.84 428.27 L222.63 428.49 L223.42 428.71 L224.22 428.92 L225.01 429.13 L225.8 429.34 L226.59 429.55 L227.38 429.75 L228.17 429.95 L228.97 430.14 L229.76 430.32 L230.55 430.5 L231.34 430.67 L232.13 430.83 L232.93 430.98 L233.72 431.12 L234.51 431.26 L235.3 431.39 L236.09 431.52 L236.88 431.64 L237.68 431.76 L238.47 431.88 L239.26 431.99 L240.05 432.1 L240.84 432.21 L241.63 432.31 L242.43 432.42 L243.22 432.52 L244.01 432.63 L244.8 432.73 L245.59 432.84 L246.39 432.95 L247.18 433.06 L247.97 433.17 L248.76 433.29 L249.55 433.41 L250.34 433.53 L251.14 433.67 L251.93 433.8 L252.72 433.94 L253.51 434.09 L254.3 434.24 L255.1 434.39 L255.89 434.54 L256.68 434.69 L257.47 434.84 L258.26 434.98 L259.05 435.12 L259.85 435.26 L260.64 435.39 L261.43 435.51 L262.22 435.63 L263.01 435.73 L263.81 435.83 L264.6 435.92 L265.39 436 L266.18 436.09 L266.97 436.17 L267.76 436.24 L268.56 436.32 L269.35 436.4 L270.14 436.47 L270.93 436.54 L271.72 436.61 L272.52 436.67 L273.31 436.74 L274.1 436.8 L274.89 436.86 L275.68 436.93 L276.47 436.99 L277.27 437.04 L278.06 437.1 L278.85 437.16 L279.64 437.22 L280.43 437.27 L281.23 437.33 L282.02 437.38 L282.81 437.43 L283.6 437.49 L284.39 437.54 L285.18 437.6 L285.98 437.65 L286.77 437.7 L287.56 437.76 L288.35 437.81 L289.14 437.87 L289.94 437.92 L290.73 437.98 L291.52 438.03 L292.31 438.09 L293.1 438.15 L293.89 438.21 L294.69 438.27 L295.48 438.33 L296.27 438.4 L297.06 438.46 L297.85 438.52 L298.65 438.58 L299.44 438.65 L300.23 438.71 L301.02 438.77 L301.81 438.83 L302.6 438.9 L303.4 438.96 L304.19 439.02 L304.98 439.08 L305.77 439.15 L306.56 439.21 L307.35 439.27 L308.15 439.33 L308.94 439.4 L309.73 439.46 L310.52 439.52 L311.31 439.59 L312.11 439.65 L312.9 439.71 L313.69 439.77 L314.48 439.84 L315.27 439.9 L316.06 439.96 L316.86 440.02 L317.65 440.09 L318.44 440.15 L319.23 440.21 L320.02 440.27 L320.82 440.34 L321.61 440.4 L322.4 440.46 L323.19 440.52 L323.98 440.59 L324.77 440.65 L325.57 440.71 L326.36 440.78 L327.15 440.84" fill="none" stroke="#6495ed" stroke-width="2.0" stroke-opacity="0.88" stroke-dasharray="10.9 2.7 1.7 2.7" stroke-linejoin="round"/>
<path d="M42.1 439.12 L42.89 438.55 L43.68 438.02 L44.48 437.55 L45.27 437.09 L46.06 436.64 L46.85 436.2 L47.64 435.77 L48.43 435.36 L49.23 434.95 L50.02 434.55 L50.81 434.16 L51.6 433.78 L52.39 433.4 L53.19 433.03 L53.98 432.67 L54.77 432.31 L55.56 431.95 L56.35 431.6 L57.14 431.26 L57.94 430.91 L58.73 430.57 L59.52 430.23 L60.31 429.9 L61.1 429.57 L61.9 429.25 L62.69 428.93 L63.48 428.62 L64.27 428.31 L65.06 428 L65.85 427.7 L66.65 427.4 L67.44 427.11 L68.23 426.82 L69.02 426.53 L69.81 426.25 L70.61 425.96 L71.4 425.69 L72.19 425.41 L72.98 425.14 L73.77 424.87 L74.56 424.6 L75.36 424.33 L76.15 424.06 L76.94 423.79 L77.73 423.53 L78.52 423.26 L79.31 423 L80.11 422.74 L80.9 422.48 L81.69 422.23 L82.48 421.99 L83.27 421.74 L84.07 421.5 L84.86 421.27 L85.65 421.05 L86.44 420.83 L87.23 420.61 L88.02 420.41 L88.82 420.21 L89.61 420.01 L90.4 419.82 L91.19 419.62 L91.98 419.41 L92.78 419.21 L93.57 419.01 L94.36 418.81 L95.15 418.62 L95.94 418.42 L96.73 418.24 L97.53 418.06 L98.32 417.89 L99.11 417.72 L99.9 417.57 L100.69 417.43 L101.49 417.3 L102.28 417.19 L103.07 417.08 L103.86 417 L104.65 416.93 L105.44 416.88 L106.24 416.84 L107.03 416.8 L107.82 416.76 L108.61 416.73 L109.4 416.69 L110.2 416.66 L110.99 416.63 L111.78 416.6 L112.57 416.57 L113.36 416.54 L114.15 416.52 L114.95 416.5 L115.74 416.48 L116.53 416.46 L117.32 416.45 L118.11 416.43 L118.91 416.42 L119.7 416.42 L120.49 416.41 L121.28 416.41 L122.07 416.43 L122.86 416.47 L123.66 416.53 L124.45 416.61 L125.24 416.71 L126.03 416.82 L126.82 416.93 L127.62 417.05 L128.41 417.16 L129.2 417.27 L129.99 417.37 L130.78 417.46 L131.57 417.56 L132.37 417.66 L133.16 417.76 L133.95 417.86 L134.74 417.96 L135.53 418.07 L136.32 418.18 L137.12 418.29 L137.91 418.4 L138.7 418.52 L139.49 418.64 L140.28 418.77 L141.08 418.89 L141.87 419.02 L142.66 419.15 L143.45 419.28 L144.24 419.41 L145.03 419.54 L145.83 419.67 L146.62 419.8 L147.41 419.94 L148.2 420.07 L148.99 420.19 L149.79 420.32 L150.58 420.45 L151.37 420.58 L152.16 420.71 L152.95 420.83 L153.74 420.96 L154.54 421.09 L155.33 421.22 L156.12 421.36 L156.91 421.49 L157.7 421.62 L158.5 421.76 L159.29 421.9 L160.08 422.05 L160.87 422.19 L161.66 422.34 L162.45 422.48 L163.25 422.63 L164.04 422.78 L164.83 422.93 L165.62 423.08 L166.41 423.24 L167.21 423.39 L168 423.54 L168.79 423.69 L169.58 423.85 L170.37 424 L171.16 424.15 L171.96 424.31 L172.75 424.47 L173.54 424.62 L174.33 424.78 L175.12 424.94 L175.92 425.09 L176.71 425.25 L177.5 425.41 L178.29 425.57 L179.08 425.73 L179.87 425.89 L180.67 426.05 L181.46 426.21 L182.25 426.36 L183.04 426.52 L183.83 426.68 L184.62 426.84 L185.42 427 L186.21 427.16 L187 427.33 L187.79 427.49 L188.58 427.65 L189.38 427.81 L190.17 427.97 L190.96 428.13 L191.75 428.29 L192.54 428.44 L193.33 428.59 L194.13 428.74 L194.92 428.89 L195.71 429.03 L196.5 429.17 L197.29 429.31 L198.09 429.45 L198.88 429.6 L199.67 429.73 L200.46 429.87 L201.25 430.01 L202.04 430.14 L202.84 430.27 L203.63 430.4 L204.42 430.52 L205.21 430.64 L206 430.75 L206.8 430.86 L207.59 430.96 L208.38 431.05 L209.17 431.15 L209.96 431.23 L210.75 431.32 L211.55 431.4 L212.34 431.48 L213.13 431.56 L213.92 431.63 L214.71 431.7 L215.51 431.78 L216.3 431.85 L217.09 431.92 L217.88 432 L218.67 432.07 L219.46 432.15 L220.26 432.22 L221.05 432.3 L221.84 432.38 L222.63 432.46 L223.42 432.55 L224.22 432.63 L225.01 432.71 L225.8 432.79 L226.59 432.88 L227.38 432.96 L228.17 433.04 L228.97 433.12 L229.76 433.19 L230.55 433.27 L231.34 433.34 L232.13 433.41 L232.93 433.48 L233.72 433.55 L234.51 433.61 L235.3 433.68 L236.09 433.74 L236.88 433.81 L237.68 433.87 L238.47 433.93 L239.26 433.99 L240.05 434.05 L240.84 434.11 L241.63 434.16 L242.43 434.22 L243.22 434.28 L244.01 434.33 L244.8 434.39 L245.59 434.44 L246.39 434.5 L247.18 434.55 L247.97 434.6 L248.76 434.65 L249.55 434.7 L250.34 434.75 L251.14 434.8 L251.93 434.85 L252.72 434.9 L253.51 434.94 L254.3 434.99 L255.1 435.03 L255.89 435.08 L256.68 435.12 L257.47 435.16 L258.26 435.21 L259.05 435.25 L259.85 435.29 L260.64 435.34 L261.43 435.38 L262.22 435.42 L263.01 435.47 L263.81 435.51 L264.6 435.56 L265.39 435.61 L266.18 435.65 L266.97 435.7 L267.76 435.75 L268.56 435.8 L269.35 435.85 L270.14 435.9 L270.93 435.95 L271.72 435.99 L272.52 436.04 L273.31 436.09 L274.1 436.14 L274.89 436.19 L275.68 436.24 L276.47 436.3 L277.27 436.35 L278.06 436.4 L278.85 436.45 L279.64 436.49 L280.43 436.54 L281.23 436.59 L282.02 436.64 L282.81 436.69 L283.6 436.74 L284.39 436.79 L285.18 436.83 L285.98 436.88 L286.77 436.93 L287.56 436.97 L288.35 437.02 L289.14 437.06 L289.94 437.11 L290.73 437.15 L291.52 437.19 L292.31 437.24 L293.1 437.28 L293.89 437.32 L294.69 437.36 L295.48 437.39 L296.27 437.43 L297.06 437.47 L297.85 437.5 L298.65 437.54 L299.44 437.58 L300.23 437.61 L301.02 437.65 L301.81 437.69 L302.6 437.72 L303.4 437.76 L304.19 437.79 L304.98 437.83 L305.77 437.86 L306.56 437.89 L307.35 437.93 L308.15 437.96 L308.94 437.99 L309.73 438.03 L310.52 438.06 L311.31 438.09 L312.11 438.12 L312.9 438.15 L313.69 438.18 L314.48 438.21 L315.27 438.24 L316.06 438.27 L316.86 438.3 L317.65 438.33 L318.44 438.36 L319.23 438.39 L320.02 438.42 L320.82 438.44 L321.61 438.47 L322.4 438.5 L323.19 438.52 L323.98 438.55 L324.77 438.57 L325.57 438.6 L326.36 438.62 L327.15 438.65" fill="none" stroke="#ff7f50" stroke-width="2.0" stroke-opacity="0.88" stroke-dasharray="10.9 2.7 1.7 2.7" stroke-linejoin="round"/>
<path d="M42.1 443.5 L42.89 443.5 L43.68 443.5 L44.48 443.5 L45.27 443.5 L46.06 443.5 L46.85 443.5 L47.64 443.5 L48.43 443.5 L49.23 443.5 L50.02 443.5 L50.81 443.5 L51.6 443.5 L52.39 443.5 L53.19 443.5 L53.98 443.5 L54.77 443.5 L55.56 443.5 L56.35 443.48 L57.14 443.46 L57.94 443.44 L58.73 443.4 L59.52 443.36 L60.31 443.32 L61.1 443.26 L61.9 443.2 L62.69 443.14 L63.48 443.07 L64.27 442.99 L65.06 442.91 L65.85 442.83 L66.65 442.74 L67.44 442.64 L68.23 442.55 L69.02 442.44 L69.81 442.34 L70.61 442.23 L71.4 442.12 L72.19 442.01 L72.98 441.89 L73.77 441.78 L74.56 441.64 L75.36 441.47 L76.15 441.27 L76.94 441.04 L77.73 440.78 L78.52 440.5 L79.31 440.2 L80.11 439.88 L80.9 439.56 L81.69 439.22 L82.48 438.87 L83.27 438.52 L84.07 438.17 L84.86 437.82 L85.65 437.47 L86.44 437.13 L87.23 436.81 L88.02 436.49 L88.82 436.2 L89.61 435.92 L90.4 435.64 L91.19 435.37 L91.98 435.1 L92.78 434.83 L93.57 434.57 L94.36 434.3 L95.15 434.04 L95.94 433.78 L96.73 433.52 L97.53 433.26 L98.32 432.99 L99.11 432.73 L99.9 432.46 L100.69 432.2 L101.49 431.92 L102.28 431.65 L103.07 431.37 L103.86 431.09 L104.65 430.8 L105.44 430.5 L106.24 430.21 L107.03 429.91 L107.82 429.6 L108.61 429.3 L109.4 429 L110.2 428.69 L110.99 428.38 L111.78 428.06 L112.57 427.74 L113.36 427.42 L114.15 427.1 L114.95 426.76 L115.74 426.43 L116.53 426.09 L117.32 425.74 L118.11 425.39 L118.91 425.04 L119.7 424.67 L120.49 424.3 L121.28 423.93 L122.07 423.52 L122.86 423.07 L123.66 422.59 L124.45 422.09 L125.24 421.59 L126.03 421.1 L126.82 420.62 L127.62 420.18 L128.41 419.78 L129.2 419.45 L129.99 419.18 L130.78 418.96 L131.57 418.77 L132.37 418.6 L133.16 418.45 L133.95 418.3 L134.74 418.16 L135.53 418 L136.32 417.84 L137.12 417.66 L137.91 417.46 L138.7 417.24 L139.49 417 L140.28 416.76 L141.08 416.5 L141.87 416.24 L142.66 415.98 L143.45 415.72 L144.24 415.48 L145.03 415.24 L145.83 415.02 L146.62 414.81 L147.41 414.63 L148.2 414.48 L148.99 414.35 L149.79 414.24 L150.58 414.13 L151.37 414.01 L152.16 413.91 L152.95 413.81 L153.74 413.72 L154.54 413.64 L155.33 413.57 L156.12 413.51 L156.91 413.47 L157.7 413.44 L158.5 413.44 L159.29 413.45 L160.08 413.48 L160.87 413.52 L161.66 413.57 L162.45 413.64 L163.25 413.71 L164.04 413.79 L164.83 413.88 L165.62 413.98 L166.41 414.08 L167.21 414.18 L168 414.28 L168.79 414.38 L169.58 414.48 L170.37 414.61 L171.16 414.75 L171.96 414.91 L172.75 415.08 L173.54 415.25 L174.33 415.43 L175.12 415.61 L175.92 415.79 L176.71 415.96 L177.5 416.13 L178.29 416.29 L179.08 416.44 L179.87 416.58 L180.67 416.72 L181.46 416.85 L182.25 416.98 L183.04 417.11 L183.83 417.23 L184.62 417.36 L185.42 417.49 L186.21 417.61 L187 417.74 L187.79 417.86 L188.58 417.99 L189.38 418.13 L190.17 418.26 L190.96 418.4 L191.75 418.54 L192.54 418.69 L193.33 418.83 L194.13 418.98 L194.92 419.13 L195.71 419.28 L196.5 419.43 L197.29 419.58 L198.09 419.73 L198.88 419.88 L199.67 420.02 L200.46 420.17 L201.25 420.31 L202.04 420.46 L202.84 420.61 L203.63 420.76 L204.42 420.91 L205.21 421.06 L206 421.21 L206.8 421.35 L207.59 421.5 L208.38 421.63 L209.17 421.77 L209.96 421.9 L210.75 422.02 L211.55 422.14 L212.34 422.26 L213.13 422.37 L213.92 422.47 L214.71 422.57 L215.51 422.68 L216.3 422.78 L217.09 422.88 L217.88 422.97 L218.67 423.07 L219.46 423.18 L220.26 423.28 L221.05 423.39 L221.84 423.5 L222.63 423.62 L223.42 423.74 L224.22 423.85 L225.01 423.97 L225.8 424.07 L226.59 424.16 L227.38 424.24 L228.17 424.31 L228.97 424.37 L229.76 424.43 L230.55 424.49 L231.34 424.55 L232.13 424.6 L232.93 424.65 L233.72 424.69 L234.51 424.74 L235.3 424.78 L236.09 424.82 L236.88 424.86 L237.68 424.9 L238.47 424.94 L239.26 424.98 L240.05 425.02 L240.84 425.06 L241.63 425.1 L242.43 425.14 L243.22 425.18 L244.01 425.23 L244.8 425.28 L245.59 425.33 L246.39 425.38 L247.18 425.43 L247.97 425.49 L248.76 425.55 L249.55 425.62 L250.34 425.68 L251.14 425.75 L251.93 425.82 L252.72 425.89 L253.51 425.97 L254.3 426.04 L255.1 426.12 L255.89 426.2 L256.68 426.28 L257.47 426.36 L258.26 426.44 L259.05 426.53 L259.85 426.61 L260.64 426.7 L261.43 426.79 L262.22 426.88 L263.01 426.97 L263.81 427.06 L264.6 427.15 L265.39 427.25 L266.18 427.34 L266.97 427.44 L267.76 427.54 L268.56 427.65 L269.35 427.75 L270.14 427.86 L270.93 427.97 L271.72 428.08 L272.52 428.19 L273.31 428.3 L274.1 428.41 L274.89 428.53 L275.68 428.64 L276.47 428.76 L277.27 428.88 L278.06 429 L278.85 429.12 L279.64 429.24 L280.43 429.37 L281.23 429.49 L282.02 429.61 L282.81 429.74 L283.6 429.86 L284.39 429.99 L285.18 430.11 L285.98 430.24 L286.77 430.37 L287.56 430.49 L288.35 430.62 L289.14 430.75 L289.94 430.87 L290.73 431 L291.52 431.13 L292.31 431.25 L293.1 431.38 L293.89 431.51 L294.69 431.63 L295.48 431.76 L296.27 431.88 L297.06 432.01 L297.85 432.13 L298.65 432.26 L299.44 432.39 L300.23 432.51 L301.02 432.64 L301.81 432.77 L302.6 432.9 L303.4 433.03 L304.19 433.16 L304.98 433.28 L305.77 433.41 L306.56 433.55 L307.35 433.68 L308.15 433.81 L308.94 433.94 L309.73 434.07 L310.52 434.2 L311.31 434.34 L312.11 434.47 L312.9 434.6 L313.69 434.74 L314.48 434.87 L315.27 435.01 L316.06 435.14 L316.86 435.28 L317.65 435.42 L318.44 435.55 L319.23 435.69 L320.02 435.83 L320.82 435.96 L321.61 436.1 L322.4 436.24 L323.19 436.38 L323.98 436.52 L324.77 436.66 L325.57 436.8 L326.36 436.94 L327.15 437.08" fill="none" stroke="#90ee90" stroke-width="2.0" stroke-opacity="0.88" stroke-dasharray="10.9 2.7 1.7 2.7" stroke-linejoin="round"/>
<path d="M42.1 443.5 L42.89 443.5 L43.68 443.5 L44.48 443.5 L45.27 443.5 L46.06 443.5 L46.85 443.5 L47.64 443.5 L48.43 443.5 L49.23 443.5 L50.02 443.5 L50.81 443.5 L51.6 443.5 L52.39 443.5 L53.19 443.5 L53.98 443.5 L54.77 443.5 L55.56 443.5 L56.35 443.5 L57.14 443.5 L57.94 443.5 L58.73 443.5 L59.52 443.5 L60.31 443.5 L61.1 443.5 L61.9 443.5 L62.69 443.5 L63.48 443.5 L64.27 443.5 L65.06 443.5 L65.85 443.5 L66.65 443.5 L67.44 443.5 L68.23 443.47 L69.02 443.38 L69.81 443.25 L70.61 443.09 L71.4 442.89 L72.19 442.68 L72.98 442.47 L73.77 442.25 L74.56 442.02 L75.36 441.76 L76.15 441.48 L76.94 441.17 L77.73 440.83 L78.52 440.47 L79.31 440.09 L80.11 439.69 L80.9 439.28 L81.69 438.84 L82.48 438.39 L83.27 437.92 L84.07 437.44 L84.86 436.95 L85.65 436.45 L86.44 435.94 L87.23 435.42 L88.02 434.9 L88.82 434.37 L89.61 433.82 L90.4 433.24 L91.19 432.61 L91.98 431.95 L92.78 431.27 L93.57 430.56 L94.36 429.82 L95.15 429.07 L95.94 428.3 L96.73 427.53 L97.53 426.74 L98.32 425.94 L99.11 425.12 L99.9 424.28 L100.69 423.42 L101.49 422.54 L102.28 421.63 L103.07 420.69 L103.86 419.72 L104.65 418.71 L105.44 417.67 L106.24 416.59 L107.03 415.41 L107.82 414.09 L108.61 412.7 L109.4 411.33 L110.2 410.05 L110.99 408.85 L111.78 407.68 L112.57 406.53 L113.36 405.41 L114.15 404.32 L114.95 403.26 L115.74 402.22 L116.53 401.22 L117.32 400.21 L118.11 399.21 L118.91 398.27 L119.7 397.44 L120.49 396.77 L121.28 396.19 L122.07 395.66 L122.86 395.17 L123.66 394.72 L124.45 394.3 L125.24 393.89 L126.03 393.49 L126.82 393.09 L127.62 392.68 L128.41 392.26 L129.2 391.84 L129.99 391.43 L130.78 391.03 L131.57 390.64 L132.37 390.25 L133.16 389.88 L133.95 389.51 L134.74 389.12 L135.53 388.71 L136.32 388.28 L137.12 387.87 L137.91 387.49 L138.7 387.17 L139.49 386.94 L140.28 386.82 L141.08 386.77 L141.87 386.72 L142.66 386.69 L143.45 386.67 L144.24 386.66 L145.03 386.7 L145.83 386.79 L146.62 386.92 L147.41 387.09 L148.2 387.29 L148.99 387.51 L149.79 387.75 L150.58 388 L151.37 388.24 L152.16 388.49 L152.95 388.71 L153.74 388.94 L154.54 389.16 L155.33 389.4 L156.12 389.64 L156.91 389.89 L157.7 390.15 L158.5 390.42 L159.29 390.71 L160.08 391.02 L160.87 391.34 L161.66 391.68 L162.45 392.05 L163.25 392.44 L164.04 392.91 L164.83 393.46 L165.62 394.06 L166.41 394.7 L167.21 395.36 L168 396.03 L168.79 396.69 L169.58 397.31 L170.37 397.9 L171.16 398.45 L171.96 398.99 L172.75 399.51 L173.54 400.04 L174.33 400.57 L175.12 401.12 L175.92 401.69 L176.71 402.3 L177.5 402.94 L178.29 403.66 L179.08 404.45 L179.87 405.29 L180.67 406.16 L181.46 407.04 L182.25 407.92 L183.04 408.76 L183.83 409.55 L184.62 410.3 L185.42 411.01 L186.21 411.71 L187 412.4 L187.79 413.09 L188.58 413.78 L189.38 414.49 L190.17 415.22 L190.96 415.99 L191.75 416.8 L192.54 417.63 L193.33 418.47 L194.13 419.3 L194.92 420.13 L195.71 420.91 L196.5 421.66 L197.29 422.35 L198.09 422.97 L198.88 423.55 L199.67 424.12 L200.46 424.66 L201.25 425.19 L202.04 425.69 L202.84 426.18 L203.63 426.66 L204.42 427.12 L205.21 427.57 L206 428.01 L206.8 428.44 L207.59 428.87 L208.38 429.29 L209.17 429.7 L209.96 430.11 L210.75 430.5 L211.55 430.89 L212.34 431.27 L213.13 431.65 L213.92 432.01 L214.71 432.37 L215.51 432.73 L216.3 433.08 L217.09 433.42 L217.88 433.75 L218.67 434.08 L219.46 434.4 L220.26 434.72 L221.05 435.03 L221.84 435.35 L222.63 435.66 L223.42 435.96 L224.22 436.27 L225.01 436.57 L225.8 436.86 L226.59 437.15 L227.38 437.43 L228.17 437.7 L228.97 437.97 L229.76 438.22 L230.55 438.47 L231.34 438.7 L232.13 438.92 L232.93 439.12 L233.72 439.32 L234.51 439.51 L235.3 439.69 L236.09 439.87 L236.88 440.04 L237.68 440.21 L238.47 440.37 L239.26 440.52 L240.05 440.67 L240.84 440.82 L241.63 440.96 L242.43 441.1 L243.22 441.24 L244.01 441.37 L244.8 441.51 L245.59 441.64 L246.39 441.77 L247.18 441.9 L247.97 442.03 L248.76 442.15 L249.55 442.28 L250.34 442.4 L251.14 442.52 L251.93 442.63 L252.72 442.73 L253.51 442.83 L254.3 442.91 L255.1 442.99 L255.89 443.06 L256.68 443.12 L257.47 443.18 L258.26 443.25 L259.05 443.3 L259.85 443.36 L260.64 443.4 L261.43 443.44 L262.22 443.47 L263.01 443.49 L263.81 443.5 L264.6 443.5 L265.39 443.5 L266.18 443.5 L266.97 443.5 L267.76 443.5 L268.56 443.5 L269.35 443.5 L270.14 443.5 L270.93 443.5 L271.72 443.5 L272.52 443.5 L273.31 443.5 L274.1 443.5 L274.89 443.5 L275.68 443.5 L276.47 443.5 L277.27 443.5 L278.06 443.5 L278.85 443.5 L279.64 443.5 L280.43 443.5 L281.23 443.5 L282.02 443.5 L282.81 443.5 L283.6 443.5 L284.39 443.5 L285.18 443.5 L285.98 443.5 L286.77 443.5 L287.56 443.5 L288.35 443.5 L289.14 443.5 L289.94 443.5 L290.73 443.5 L291.52 443.5 L292.31 443.5 L293.1 443.5 L293.89 443.5 L294.69 443.5 L295.48 443.5 L296.27 443.5 L297.06 443.5 L297.85 443.5 L298.65 443.5 L299.44 443.5 L300.23 443.5 L301.02 443.5 L301.81 443.5 L302.6 443.5 L303.4 443.5 L304.19 443.5 L304.98 443.5 L305.77 443.5 L306.56 443.5 L307.35 443.5 L308.15 443.5 L308.94 443.5 L309.73 443.5 L310.52 443.5 L311.31 443.5 L312.11 443.5 L312.9 443.5 L313.69 443.5 L314.48 443.5 L315.27 443.5 L316.06 443.5 L316.86 443.5 L317.65 443.5 L318.44 443.5 L319.23 443.5 L320.02 443.5 L320.82 443.5 L321.61 443.5 L322.4 443.5 L323.19 443.5 L323.98 443.5 L324.77 443.5 L325.57 443.5 L326.36 443.5 L327.15 443.5" fill="none" stroke="#ffc0cb" stroke-width="2.0" stroke-opacity="0.88" stroke-dasharray="10.9 2.7 1.7 2.7" stroke-linejoin="round"/>
<path d="M42.1 443.5 L42.89 443.5 L43.68 443.5 L44.48 443.5 L45.27 443.5 L46.06 443.5 L46.85 443.5 L47.64 443.5 L48.43 443.5 L49.23 443.5 L50.02 443.5 L50.81 443.5 L51.6 443.5 L52.39 443.5 L53.19 443.5 L53.98 443.5 L54.77 443.5 L55.56 443.5 L56.35 443.5 L57.14 443.5 L57.94 443.5 L58.73 443.5 L59.52 443.5 L60.31 443.5 L61.1 443.5 L61.9 443.5 L62.69 443.5 L63.48 443.5 L64.27 443.5 L65.06 443.5 L65.85 443.5 L66.65 443.5 L67.44 443.5 L68.23 443.5 L69.02 443.5 L69.81 443.5 L70.61 443.5 L71.4 443.5 L72.19 443.5 L72.98 443.5 L73.77 443.5 L74.56 443.5 L75.36 443.5 L76.15 443.5 L76.94 443.5 L77.73 443.5 L78.52 443.5 L79.31 443.5 L80.11 443.5 L80.9 443.5 L81.69 443.5 L82.48 443.5 L83.27 443.5 L84.07 443.5 L84.86 443.5 L85.65 443.5 L86.44 443.5 L87.23 443.5 L88.02 443.5 L88.82 443.5 L89.61 443.5 L90.4 443.5 L91.19 443.5 L91.98 443.5 L92.78 443.5 L93.57 443.5 L94.36 443.5 L95.15 443.5 L95.94 443.5 L96.73 443.5 L97.53 443.5 L98.32 443.5 L99.11 443.5 L99.9 443.5 L100.69 443.5 L101.49 443.43 L102.28 443.26 L103.07 443.07 L103.86 442.82 L104.65 442.52 L105.44 442.17 L106.24 441.78 L107.03 441.37 L107.82 440.94 L108.61 440.51 L109.4 440.06 L110.2 439.59 L110.99 439.07 L111.78 438.53 L112.57 437.96 L113.36 437.38 L114.15 436.77 L114.95 436.16 L115.74 435.53 L116.53 434.89 L117.32 434.22 L118.11 433.53 L118.91 432.82 L119.7 432.08 L120.49 431.31 L121.28 430.51 L122.07 429.68 L122.86 428.8 L123.66 427.88 L124.45 426.93 L125.24 425.95 L126.03 424.94 L126.82 423.9 L127.62 422.84 L128.41 421.76 L129.2 420.63 L129.99 419.45 L130.78 418.25 L131.57 417.03 L132.37 415.8 L133.16 414.57 L133.95 413.37 L134.74 412.16 L135.53 410.87 L136.32 409.47 L137.12 407.85 L137.91 405.94 L138.7 403.92 L139.49 402 L140.28 400.35 L141.08 398.85 L141.87 397.45 L142.66 396.12 L143.45 394.84 L144.24 393.59 L145.03 392.36 L145.83 391.16 L146.62 390 L147.41 388.88 L148.2 387.84 L148.99 386.87 L149.79 385.95 L150.58 385.07 L151.37 384.24 L152.16 383.47 L152.95 382.75 L153.74 382.09 L154.54 381.47 L155.33 380.88 L156.12 380.33 L156.91 379.82 L157.7 379.35 L158.5 378.9 L159.29 378.48 L160.08 378.08 L160.87 377.71 L161.66 377.36 L162.45 377.01 L163.25 376.64 L164.04 376.27 L164.83 375.97 L165.62 375.76 L166.41 375.7 L167.21 375.7 L168 375.7 L168.79 375.7 L169.58 375.76 L170.37 375.96 L171.16 376.25 L171.96 376.6 L172.75 376.97 L173.54 377.48 L174.33 378.12 L175.12 378.81 L175.92 379.52 L176.71 380.17 L177.5 380.76 L178.29 381.33 L179.08 381.89 L179.87 382.45 L180.67 383.01 L181.46 383.57 L182.25 384.13 L183.04 384.67 L183.83 385.23 L184.62 385.8 L185.42 386.4 L186.21 387.05 L187 387.74 L187.79 388.46 L188.58 389.19 L189.38 389.92 L190.17 390.65 L190.96 391.37 L191.75 392.1 L192.54 392.84 L193.33 393.57 L194.13 394.31 L194.92 395.04 L195.71 395.76 L196.5 396.5 L197.29 397.31 L198.09 398.21 L198.88 399.19 L199.67 400.21 L200.46 401.24 L201.25 402.31 L202.04 403.42 L202.84 404.56 L203.63 405.7 L204.42 406.86 L205.21 408 L206 409.12 L206.8 410.2 L207.59 411.24 L208.38 412.23 L209.17 413.2 L209.96 414.15 L210.75 415.08 L211.55 415.99 L212.34 416.89 L213.13 417.77 L213.92 418.65 L214.71 419.51 L215.51 420.38 L216.3 421.24 L217.09 422.1 L217.88 422.96 L218.67 423.81 L219.46 424.65 L220.26 425.46 L221.05 426.24 L221.84 426.99 L222.63 427.7 L223.42 428.38 L224.22 429.03 L225.01 429.66 L225.8 430.27 L226.59 430.86 L227.38 431.43 L228.17 431.99 L228.97 432.53 L229.76 433.06 L230.55 433.58 L231.34 434.1 L232.13 434.63 L232.93 435.14 L233.72 435.65 L234.51 436.14 L235.3 436.6 L236.09 437.03 L236.88 437.42 L237.68 437.77 L238.47 438.08 L239.26 438.37 L240.05 438.65 L240.84 438.91 L241.63 439.16 L242.43 439.39 L243.22 439.62 L244.01 439.84 L244.8 440.05 L245.59 440.25 L246.39 440.44 L247.18 440.64 L247.97 440.83 L248.76 441.01 L249.55 441.2 L250.34 441.39 L251.14 441.58 L251.93 441.77 L252.72 441.96 L253.51 442.14 L254.3 442.31 L255.1 442.48 L255.89 442.62 L256.68 442.76 L257.47 442.87 L258.26 442.98 L259.05 443.09 L259.85 443.2 L260.64 443.29 L261.43 443.38 L262.22 443.44 L263.01 443.48 L263.81 443.5 L264.6 443.5 L265.39 443.5 L266.18 443.5 L266.97 443.5 L267.76 443.5 L268.56 443.5 L269.35 443.5 L270.14 443.5 L270.93 443.5 L271.72 443.5 L272.52 443.5 L273.31 443.5 L274.1 443.5 L274.89 443.5 L275.68 443.5 L276.47 443.5 L277.27 443.5 L278.06 443.5 L278.85 443.5 L279.64 443.5 L280.43 443.5 L281.23 443.5 L282.02 443.5 L282.81 443.5 L283.6 443.5 L284.39 443.5 L285.18 443.5 L285.98 443.5 L286.77 443.5 L287.56 443.5 L288.35 443.5 L289.14 443.5 L289.94 443.5 L290.73 443.5 L291.52 443.5 L292.31 443.5 L293.1 443.5 L293.89 443.5 L294.69 443.5 L295.48 443.5 L296.27 443.5 L297.06 443.5 L297.85 443.5 L298.65 443.5 L299.44 443.5 L300.23 443.5 L301.02 443.5 L301.81 443.5 L302.6 443.5 L303.4 443.5 L304.19 443.5 L304.98 443.5 L305.77 443.5 L306.56 443.5 L307.35 443.5 L308.15 443.5 L308.94 443.5 L309.73 443.5 L310.52 443.5 L311.31 443.5 L312.11 443.5 L312.9 443.5 L313.69 443.5 L314.48 443.5 L315.27 443.5 L316.06 443.5 L316.86 443.5 L317.65 443.5 L318.44 443.5 L319.23 443.5 L320.02 443.5 L320.82 443.5 L321.61 443.5 L322.4 443.5 L323.19 443.5 L323.98 443.5 L324.77 443.5 L325.57 443.5 L326.36 443.5 L327.15 443.5" fill="none" stroke="#2a2a2a" stroke-width="2.1" stroke-linejoin="round"/>
</g>
<rect x="42.1" y="255.6" width="285.05" height="187.9" fill="none" stroke="#333333" stroke-width="1.2"/>
<line x1="42.1" y1="443.5" x2="42.1" y2="446.1" stroke="#333333" stroke-width="1.1"/>
<text x="42.1" y="458.1" text-anchor="middle" font-size="10">30</text>
<line x1="73.77" y1="443.5" x2="73.77" y2="446.1" stroke="#333333" stroke-width="1.1"/>
<text x="73.77" y="458.1" text-anchor="middle" font-size="10">40</text>
<line x1="105.44" y1="443.5" x2="105.44" y2="446.1" stroke="#333333" stroke-width="1.1"/>
<text x="105.44" y="458.1" text-anchor="middle" font-size="10">50</text>
<line x1="137.12" y1="443.5" x2="137.12" y2="446.1" stroke="#333333" stroke-width="1.1"/>
<text x="137.12" y="458.1" text-anchor="middle" font-size="10">60</text>
<line x1="168.79" y1="443.5" x2="168.79" y2="446.1" stroke="#333333" stroke-width="1.1"/>
<text x="168.79" y="458.1" text-anchor="middle" font-size="10">70</text>
<line x1="200.46" y1="443.5" x2="200.46" y2="446.1" stroke="#333333" stroke-width="1.1"/>
<text x="200.46" y="458.1" text-anchor="middle" font-size="10">80</text>
<line x1="232.13" y1="443.5" x2="232.13" y2="446.1" stroke="#333333" stroke-width="1.1"/>
<text x="232.13" y="458.1" text-anchor="middle" font-size="10">90</text>
<line x1="263.81" y1="443.5" x2="263.81" y2="446.1" stroke="#333333" stroke-width="1.1"/>
<text x="263.81" y="458.1" text-anchor="middle" font-size="10">100</text>
<line x1="295.48" y1="443.5" x2="295.48" y2="446.1" stroke="#333333" stroke-width="1.1"/>
<text x="295.48" y="458.1" text-anchor="middle" font-size="10">110</text>
<line x1="327.15" y1="443.5" x2="327.15" y2="446.1" stroke="#333333" stroke-width="1.1"/>
<text x="327.15" y="458.1" text-anchor="middle" font-size="10">120</text>
<line x1="39.5" y1="443.5" x2="42.1" y2="443.5" stroke="#333333" stroke-width="1.1"/>
<text x="35.1" y="447.2" text-anchor="end" font-size="10">0.00</text>
<line x1="39.5" y1="412.18" x2="42.1" y2="412.18" stroke="#333333" stroke-width="1.1"/>
<text x="35.1" y="415.88" text-anchor="end" font-size="10">0.02</text>
<line x1="39.5" y1="380.87" x2="42.1" y2="380.87" stroke="#333333" stroke-width="1.1"/>
<text x="35.1" y="384.57" text-anchor="end" font-size="10">0.04</text>
<line x1="39.5" y1="349.55" x2="42.1" y2="349.55" stroke="#333333" stroke-width="1.1"/>
<text x="35.1" y="353.25" text-anchor="end" font-size="10">0.06</text>
<line x1="39.5" y1="318.23" x2="42.1" y2="318.23" stroke="#333333" stroke-width="1.1"/>
<text x="35.1" y="321.93" text-anchor="end" font-size="10">0.08</text>
<line x1="39.5" y1="286.92" x2="42.1" y2="286.92" stroke="#333333" stroke-width="1.1"/>
<text x="35.1" y="290.62" text-anchor="end" font-size="10">0.10</text>
<line x1="39.5" y1="255.6" x2="42.1" y2="255.6" stroke="#333333" stroke-width="1.1"/>
<text x="35.1" y="259.3" text-anchor="end" font-size="10">0.12</text>
<text x="185.12" y="473.9" text-anchor="middle" font-size="10"><tspan font-style="italic">H</tspan><tspan font-size="6.60" dy="2.8">0</tspan><tspan dy="-2.8"> [km s</tspan><tspan font-size="6.60" dy="-4.3">−1</tspan><tspan dy="4.3"> Mpc</tspan><tspan font-size="6.60" dy="-4.3">−1</tspan><tspan dy="4.3">]</tspan></text>
<text transform="translate(6.8,349.55) rotate(-90)" text-anchor="middle" font-size="10">Probability</text>
<text x="-0.7" y="255.3" font-size="14.5" font-weight="bold">c</text>
<rect x="229.4" y="260.1" width="92.9" height="108.1" rx="2" fill="#fff" fill-opacity="0.8" stroke="#cccccc" stroke-width="0.9"/>
<line x1="233.1" y1="266.9" x2="251.5" y2="266.9" stroke="#6495ed" stroke-width="2.0" stroke-opacity="0.88" stroke-dasharray="10.9 2.7 1.7 2.7"/>
<text x="256.7" y="270.3" font-size="9.85">GRB060614</text>
<line x1="233.1" y1="280.27" x2="251.5" y2="280.27" stroke="#ff7f50" stroke-width="2.0" stroke-opacity="0.88" stroke-dasharray="10.9 2.7 1.7 2.7"/>
<text x="256.7" y="283.67" font-size="9.85">GRB150101B</text>
<line x1="233.1" y1="293.64" x2="251.5" y2="293.64" stroke="#90ee90" stroke-width="2.0" stroke-opacity="0.88" stroke-dasharray="10.9 2.7 1.7 2.7"/>
<text x="256.7" y="297.04" font-size="9.85">GRB050709</text>
<line x1="233.1" y1="307.01" x2="251.5" y2="307.01" stroke="#ffc0cb" stroke-width="2.0" stroke-opacity="0.88" stroke-dasharray="10.9 2.7 1.7 2.7"/>
<text x="256.7" y="310.41" font-size="9.85">GRB160821B</text>
<line x1="232.1" y1="320.38" x2="251.8" y2="320.38" stroke="#2a2a2a" stroke-width="2.4" stroke-opacity="0.9"/>
<text x="256.7" y="323.78" font-size="9.85">Combined</text>
<line x1="232.1" y1="333.75" x2="251.8" y2="333.75" stroke="#9fd79f" stroke-width="1.1"/>
<text x="256.7" y="337.15" font-size="9.85">Planck</text>
<line x1="232.1" y1="347.12" x2="251.8" y2="347.12" stroke="#f5a0a0" stroke-width="1.1"/>
<text x="256.7" y="350.52" font-size="9.85">SHoES</text>
<line x1="232.1" y1="360.49" x2="251.8" y2="360.49" stroke="#a6e6ec" stroke-width="1.1"/>
<text x="256.7" y="363.89" font-size="9.85">Superluminal</text>
</g>
<g id="pd">
<clipPath id="cd"><rect x="392.05" y="255.6" width="285.05" height="187.9"/></clipPath>
<g clip-path="url(#cd)">
<rect x="508.64" y="255.6" width="7.22" height="187.9" fill="#008000" fill-opacity="0.55"/>
<rect x="508.64" y="255.6" width="4.4" height="187.9" fill="#008000" fill-opacity="0.8"/>
<rect x="522.54" y="255.6" width="18.5" height="187.9" fill="#ff0000" fill-opacity="0.5"/>
<rect x="525.74" y="255.6" width="10.9" height="187.9" fill="#ff0000" fill-opacity="0.8"/>
<rect x="485.32" y="255.6" width="59.29" height="187.9" fill="#00bfbf" fill-opacity="0.1"/>
<rect x="499.93" y="255.6" width="30.6" height="187.9" fill="#00bfbf" fill-opacity="0.289"/>
<line x1="423.72" y1="255.6" x2="423.72" y2="443.5" stroke="#bababa" stroke-width="1.2"/>
<line x1="455.39" y1="255.6" x2="455.39" y2="443.5" stroke="#bababa" stroke-width="1.2"/>
<line x1="487.07" y1="255.6" x2="487.07" y2="443.5" stroke="#bababa" stroke-width="1.2"/>
<line x1="518.74" y1="255.6" x2="518.74" y2="443.5" stroke="#bababa" stroke-width="1.2"/>
<line x1="550.41" y1="255.6" x2="550.41" y2="443.5" stroke="#bababa" stroke-width="1.2"/>
<line x1="582.08" y1="255.6" x2="582.08" y2="443.5" stroke="#bababa" stroke-width="1.2"/>
<line x1="613.76" y1="255.6" x2="613.76" y2="443.5" stroke="#bababa" stroke-width="1.2"/>
<line x1="645.43" y1="255.6" x2="645.43" y2="443.5" stroke="#bababa" stroke-width="1.2"/>
<line x1="392.05" y1="412.18" x2="677.1" y2="412.18" stroke="#bababa" stroke-width="1.2"/>
<line x1="392.05" y1="380.87" x2="677.1" y2="380.87" stroke="#bababa" stroke-width="1.2"/>
<line x1="392.05" y1="349.55" x2="677.1" y2="349.55" stroke="#bababa" stroke-width="1.2"/>
<line x1="392.05" y1="318.23" x2="677.1" y2="318.23" stroke="#bababa" stroke-width="1.2"/>
<line x1="392.05" y1="286.92" x2="677.1" y2="286.92" stroke="#bababa" stroke-width="1.2"/>
<path d="M392.05 443.03 L392.84 442.88 L393.63 442.72 L394.43 442.53 L395.22 442.33 L396.01 442.12 L396.8 441.9 L397.59 441.67 L398.38 441.44 L399.18 441.19 L399.97 440.94 L400.76 440.68 L401.55 440.42 L402.34 440.16 L403.14 439.9 L403.93 439.63 L404.72 439.37 L405.51 439.1 L406.3 438.84 L407.09 438.58 L407.89 438.32 L408.68 438.07 L409.47 437.82 L410.26 437.58 L411.05 437.33 L411.85 437.09 L412.64 436.85 L413.43 436.6 L414.22 436.36 L415.01 436.12 L415.8 435.87 L416.6 435.63 L417.39 435.38 L418.18 435.13 L418.97 434.88 L419.76 434.63 L420.56 434.37 L421.35 434.12 L422.14 433.85 L422.93 433.59 L423.72 433.32 L424.51 433.05 L425.31 432.77 L426.1 432.5 L426.89 432.21 L427.68 431.93 L428.47 431.64 L429.26 431.35 L430.06 431.06 L430.85 430.76 L431.64 430.47 L432.43 430.17 L433.22 429.87 L434.02 429.57 L434.81 429.27 L435.6 428.96 L436.39 428.66 L437.18 428.35 L437.97 428.05 L438.77 427.75 L439.56 427.44 L440.35 427.13 L441.14 426.81 L441.93 426.49 L442.73 426.16 L443.52 425.83 L444.31 425.5 L445.1 425.17 L445.89 424.84 L446.68 424.5 L447.48 424.17 L448.27 423.84 L449.06 423.52 L449.85 423.2 L450.64 422.88 L451.44 422.56 L452.23 422.26 L453.02 421.96 L453.81 421.67 L454.6 421.38 L455.39 421.11 L456.19 420.84 L456.98 420.56 L457.77 420.28 L458.56 420 L459.35 419.71 L460.15 419.43 L460.94 419.15 L461.73 418.88 L462.52 418.61 L463.31 418.34 L464.1 418.09 L464.9 417.84 L465.69 417.61 L466.48 417.39 L467.27 417.18 L468.06 416.99 L468.86 416.82 L469.65 416.66 L470.44 416.52 L471.23 416.41 L472.02 416.31 L472.81 416.21 L473.61 416.11 L474.4 416.01 L475.19 415.93 L475.98 415.85 L476.77 415.77 L477.56 415.72 L478.36 415.67 L479.15 415.64 L479.94 415.63 L480.73 415.63 L481.52 415.64 L482.32 415.65 L483.11 415.67 L483.9 415.69 L484.69 415.71 L485.48 415.74 L486.27 415.76 L487.07 415.78 L487.86 415.81 L488.65 415.84 L489.44 415.87 L490.23 415.91 L491.03 415.94 L491.82 415.98 L492.61 416.02 L493.4 416.07 L494.19 416.11 L494.98 416.16 L495.78 416.21 L496.57 416.26 L497.36 416.31 L498.15 416.36 L498.94 416.41 L499.74 416.46 L500.53 416.52 L501.32 416.58 L502.11 416.63 L502.9 416.69 L503.69 416.76 L504.49 416.82 L505.28 416.89 L506.07 416.95 L506.86 417.02 L507.65 417.09 L508.45 417.17 L509.24 417.24 L510.03 417.32 L510.82 417.4 L511.61 417.48 L512.4 417.56 L513.2 417.64 L513.99 417.73 L514.78 417.82 L515.57 417.91 L516.36 418 L517.16 418.1 L517.95 418.19 L518.74 418.29 L519.53 418.39 L520.32 418.5 L521.11 418.62 L521.91 418.75 L522.7 418.88 L523.49 419.01 L524.28 419.15 L525.07 419.3 L525.87 419.44 L526.66 419.59 L527.45 419.75 L528.24 419.9 L529.03 420.06 L529.82 420.21 L530.62 420.36 L531.41 420.52 L532.2 420.67 L532.99 420.82 L533.78 420.97 L534.58 421.11 L535.37 421.25 L536.16 421.39 L536.95 421.54 L537.74 421.69 L538.53 421.83 L539.33 421.98 L540.12 422.13 L540.91 422.28 L541.7 422.43 L542.49 422.57 L543.28 422.72 L544.08 422.87 L544.87 423.01 L545.66 423.15 L546.45 423.29 L547.24 423.42 L548.04 423.55 L548.83 423.68 L549.62 423.81 L550.41 423.93 L551.2 424.04 L551.99 424.16 L552.79 424.27 L553.58 424.38 L554.37 424.48 L555.16 424.59 L555.95 424.69 L556.75 424.79 L557.54 424.89 L558.33 424.99 L559.12 425.09 L559.91 425.18 L560.7 425.28 L561.5 425.38 L562.29 425.47 L563.08 425.57 L563.87 425.67 L564.66 425.77 L565.46 425.87 L566.25 425.96 L567.04 426.06 L567.83 426.16 L568.62 426.26 L569.41 426.35 L570.21 426.45 L571 426.55 L571.79 426.64 L572.58 426.74 L573.37 426.84 L574.17 426.94 L574.96 427.04 L575.75 427.14 L576.54 427.24 L577.33 427.34 L578.12 427.44 L578.92 427.55 L579.71 427.66 L580.5 427.78 L581.29 427.91 L582.08 428.04 L582.88 428.18 L583.67 428.33 L584.46 428.48 L585.25 428.63 L586.04 428.78 L586.83 428.94 L587.63 429.1 L588.42 429.26 L589.21 429.42 L590 429.58 L590.79 429.74 L591.59 429.9 L592.38 430.05 L593.17 430.2 L593.96 430.34 L594.75 430.48 L595.54 430.62 L596.34 430.74 L597.13 430.86 L597.92 430.97 L598.71 431.08 L599.5 431.18 L600.29 431.28 L601.09 431.37 L601.88 431.47 L602.67 431.56 L603.46 431.64 L604.25 431.73 L605.05 431.81 L605.84 431.9 L606.63 431.98 L607.42 432.06 L608.21 432.14 L609 432.22 L609.8 432.3 L610.59 432.37 L611.38 432.45 L612.17 432.53 L612.96 432.61 L613.76 432.7 L614.55 432.78 L615.34 432.86 L616.13 432.94 L616.92 433.03 L617.71 433.11 L618.51 433.19 L619.3 433.27 L620.09 433.35 L620.88 433.44 L621.67 433.52 L622.47 433.6 L623.26 433.68 L624.05 433.76 L624.84 433.84 L625.63 433.93 L626.42 434.01 L627.22 434.09 L628.01 434.17 L628.8 434.25 L629.59 434.33 L630.38 434.41 L631.18 434.48 L631.97 434.56 L632.76 434.64 L633.55 434.72 L634.34 434.8 L635.13 434.87 L635.93 434.95 L636.72 435.03 L637.51 435.1 L638.3 435.18 L639.09 435.25 L639.89 435.33 L640.68 435.4 L641.47 435.47 L642.26 435.54 L643.05 435.62 L643.84 435.69 L644.64 435.76 L645.43 435.83 L646.22 435.9 L647.01 435.97 L647.8 436.03 L648.6 436.1 L649.39 436.17 L650.18 436.24 L650.97 436.31 L651.76 436.37 L652.55 436.44 L653.35 436.51 L654.14 436.57 L654.93 436.64 L655.72 436.71 L656.51 436.77 L657.3 436.84 L658.1 436.9 L658.89 436.96 L659.68 437.03 L660.47 437.09 L661.26 437.15 L662.06 437.22 L662.85 437.28 L663.64 437.34 L664.43 437.4 L665.22 437.46 L666.01 437.52 L666.81 437.58 L667.6 437.64 L668.39 437.7 L669.18 437.76 L669.97 437.82 L670.77 437.88 L671.56 437.94 L672.35 438 L673.14 438.05 L673.93 438.11 L674.72 438.17 L675.52 438.22 L676.31 438.28 L677.1 438.33" fill="none" stroke="#6495ed" stroke-width="2.0" stroke-opacity="0.88" stroke-dasharray="10.9 2.7 1.7 2.7" stroke-linejoin="round"/>
<path d="M392.05 443.03 L392.84 442.91 L393.63 442.78 L394.43 442.66 L395.22 442.53 L396.01 442.39 L396.8 442.26 L397.59 442.12 L398.38 441.98 L399.18 441.83 L399.97 441.69 L400.76 441.54 L401.55 441.39 L402.34 441.23 L403.14 441.08 L403.93 440.92 L404.72 440.76 L405.51 440.6 L406.3 440.43 L407.09 440.27 L407.89 440.1 L408.68 439.93 L409.47 439.76 L410.26 439.58 L411.05 439.4 L411.85 439.21 L412.64 439.02 L413.43 438.82 L414.22 438.62 L415.01 438.41 L415.8 438.21 L416.6 438 L417.39 437.79 L418.18 437.58 L418.97 437.37 L419.76 437.16 L420.56 436.95 L421.35 436.75 L422.14 436.54 L422.93 436.34 L423.72 436.14 L424.51 435.94 L425.31 435.74 L426.1 435.55 L426.89 435.35 L427.68 435.15 L428.47 434.95 L429.26 434.75 L430.06 434.55 L430.85 434.36 L431.64 434.16 L432.43 433.96 L433.22 433.77 L434.02 433.57 L434.81 433.38 L435.6 433.18 L436.39 432.99 L437.18 432.8 L437.97 432.61 L438.77 432.42 L439.56 432.23 L440.35 432.04 L441.14 431.85 L441.93 431.66 L442.73 431.48 L443.52 431.29 L444.31 431.1 L445.1 430.91 L445.89 430.72 L446.68 430.54 L447.48 430.35 L448.27 430.17 L449.06 429.99 L449.85 429.81 L450.64 429.63 L451.44 429.46 L452.23 429.28 L453.02 429.11 L453.81 428.95 L454.6 428.78 L455.39 428.62 L456.19 428.47 L456.98 428.31 L457.77 428.15 L458.56 427.99 L459.35 427.83 L460.15 427.67 L460.94 427.51 L461.73 427.36 L462.52 427.2 L463.31 427.05 L464.1 426.91 L464.9 426.76 L465.69 426.63 L466.48 426.49 L467.27 426.36 L468.06 426.24 L468.86 426.12 L469.65 426.01 L470.44 425.9 L471.23 425.81 L472.02 425.71 L472.81 425.61 L473.61 425.52 L474.4 425.42 L475.19 425.32 L475.98 425.23 L476.77 425.13 L477.56 425.04 L478.36 424.95 L479.15 424.87 L479.94 424.79 L480.73 424.71 L481.52 424.64 L482.32 424.58 L483.11 424.53 L483.9 424.48 L484.69 424.45 L485.48 424.42 L486.27 424.4 L487.07 424.4 L487.86 424.4 L488.65 424.41 L489.44 424.43 L490.23 424.45 L491.03 424.47 L491.82 424.51 L492.61 424.54 L493.4 424.58 L494.19 424.62 L494.98 424.66 L495.78 424.7 L496.57 424.74 L497.36 424.78 L498.15 424.83 L498.94 424.87 L499.74 424.91 L500.53 424.95 L501.32 424.99 L502.11 425.04 L502.9 425.09 L503.69 425.14 L504.49 425.19 L505.28 425.24 L506.07 425.3 L506.86 425.35 L507.65 425.41 L508.45 425.47 L509.24 425.53 L510.03 425.59 L510.82 425.65 L511.61 425.71 L512.4 425.77 L513.2 425.83 L513.99 425.9 L514.78 425.96 L515.57 426.02 L516.36 426.09 L517.16 426.15 L517.95 426.21 L518.74 426.28 L519.53 426.34 L520.32 426.4 L521.11 426.47 L521.91 426.53 L522.7 426.6 L523.49 426.66 L524.28 426.73 L525.07 426.8 L525.87 426.87 L526.66 426.94 L527.45 427.01 L528.24 427.08 L529.03 427.15 L529.82 427.22 L530.62 427.3 L531.41 427.37 L532.2 427.45 L532.99 427.53 L533.78 427.61 L534.58 427.69 L535.37 427.77 L536.16 427.86 L536.95 427.95 L537.74 428.04 L538.53 428.14 L539.33 428.24 L540.12 428.35 L540.91 428.45 L541.7 428.56 L542.49 428.66 L543.28 428.77 L544.08 428.87 L544.87 428.97 L545.66 429.07 L546.45 429.16 L547.24 429.25 L548.04 429.34 L548.83 429.42 L549.62 429.49 L550.41 429.56 L551.2 429.63 L551.99 429.69 L552.79 429.75 L553.58 429.81 L554.37 429.86 L555.16 429.91 L555.95 429.96 L556.75 430.01 L557.54 430.06 L558.33 430.11 L559.12 430.15 L559.91 430.2 L560.7 430.25 L561.5 430.29 L562.29 430.34 L563.08 430.39 L563.87 430.43 L564.66 430.48 L565.46 430.53 L566.25 430.59 L567.04 430.64 L567.83 430.7 L568.62 430.76 L569.41 430.82 L570.21 430.88 L571 430.94 L571.79 430.99 L572.58 431.05 L573.37 431.11 L574.17 431.16 L574.96 431.21 L575.75 431.26 L576.54 431.3 L577.33 431.35 L578.12 431.38 L578.92 431.41 L579.71 431.44 L580.5 431.46 L581.29 431.48 L582.08 431.5 L582.88 431.51 L583.67 431.53 L584.46 431.54 L585.25 431.56 L586.04 431.57 L586.83 431.58 L587.63 431.59 L588.42 431.6 L589.21 431.61 L590 431.62 L590.79 431.63 L591.59 431.64 L592.38 431.65 L593.17 431.67 L593.96 431.68 L594.75 431.69 L595.54 431.71 L596.34 431.72 L597.13 431.74 L597.92 431.76 L598.71 431.78 L599.5 431.8 L600.29 431.83 L601.09 431.85 L601.88 431.89 L602.67 431.92 L603.46 431.95 L604.25 431.98 L605.05 432.02 L605.84 432.06 L606.63 432.09 L607.42 432.13 L608.21 432.16 L609 432.2 L609.8 432.23 L610.59 432.27 L611.38 432.3 L612.17 432.33 L612.96 432.36 L613.76 432.38 L614.55 432.41 L615.34 432.43 L616.13 432.45 L616.92 432.48 L617.71 432.5 L618.51 432.52 L619.3 432.54 L620.09 432.56 L620.88 432.58 L621.67 432.6 L622.47 432.62 L623.26 432.64 L624.05 432.66 L624.84 432.68 L625.63 432.69 L626.42 432.71 L627.22 432.73 L628.01 432.75 L628.8 432.77 L629.59 432.78 L630.38 432.8 L631.18 432.82 L631.97 432.84 L632.76 432.85 L633.55 432.87 L634.34 432.89 L635.13 432.91 L635.93 432.92 L636.72 432.94 L637.51 432.96 L638.3 432.98 L639.09 433 L639.89 433.02 L640.68 433.04 L641.47 433.06 L642.26 433.08 L643.05 433.1 L643.84 433.12 L644.64 433.14 L645.43 433.17 L646.22 433.19 L647.01 433.21 L647.8 433.24 L648.6 433.26 L649.39 433.28 L650.18 433.31 L650.97 433.33 L651.76 433.36 L652.55 433.38 L653.35 433.41 L654.14 433.43 L654.93 433.46 L655.72 433.48 L656.51 433.51 L657.3 433.54 L658.1 433.56 L658.89 433.59 L659.68 433.62 L660.47 433.64 L661.26 433.67 L662.06 433.7 L662.85 433.73 L663.64 433.75 L664.43 433.78 L665.22 433.81 L666.01 433.84 L666.81 433.87 L667.6 433.9 L668.39 433.93 L669.18 433.96 L669.97 433.99 L670.77 434.02 L671.56 434.05 L672.35 434.08 L673.14 434.11 L673.93 434.14 L674.72 434.17 L675.52 434.2 L676.31 434.23 L677.1 434.26" fill="none" stroke="#ff7f50" stroke-width="2.0" stroke-opacity="0.88" stroke-dasharray="10.9 2.7 1.7 2.7" stroke-linejoin="round"/>
<path d="M392.05 443.5 L392.84 443.5 L393.63 443.5 L394.43 443.5 L395.22 443.5 L396.01 443.5 L396.8 443.5 L397.59 443.5 L398.38 443.5 L399.18 443.5 L399.97 443.5 L400.76 443.5 L401.55 443.5 L402.34 443.5 L403.14 443.5 L403.93 443.5 L404.72 443.5 L405.51 443.5 L406.3 443.5 L407.09 443.5 L407.89 443.5 L408.68 443.5 L409.47 443.5 L410.26 443.5 L411.05 443.5 L411.85 443.5 L412.64 443.5 L413.43 443.5 L414.22 443.5 L415.01 443.5 L415.8 443.5 L416.6 443.5 L417.39 443.5 L418.18 443.5 L418.97 443.5 L419.76 443.5 L420.56 443.5 L421.35 443.5 L422.14 443.5 L422.93 443.5 L423.72 443.5 L424.51 443.5 L425.31 443.5 L426.1 443.5 L426.89 443.5 L427.68 443.5 L428.47 443.5 L429.26 443.5 L430.06 443.5 L430.85 443.5 L431.64 443.5 L432.43 443.48 L433.22 443.39 L434.02 443.23 L434.81 443.03 L435.6 442.8 L436.39 442.56 L437.18 442.3 L437.97 441.99 L438.77 441.62 L439.56 441.21 L440.35 440.74 L441.14 440.18 L441.93 439.53 L442.73 438.79 L443.52 437.96 L444.31 437.08 L445.1 436.13 L445.89 435.14 L446.68 434.06 L447.48 432.76 L448.27 431.31 L449.06 429.81 L449.85 428.36 L450.64 427.06 L451.44 425.95 L452.23 424.95 L453.02 423.98 L453.81 422.96 L454.6 421.83 L455.39 420.51 L456.19 419.05 L456.98 417.46 L457.77 415.79 L458.56 414.05 L459.35 412.29 L460.15 410.53 L460.94 408.79 L461.73 407.01 L462.52 405.19 L463.31 403.34 L464.1 401.46 L464.9 399.57 L465.69 397.67 L466.48 395.76 L467.27 393.85 L468.06 391.9 L468.86 389.89 L469.65 387.73 L470.44 385.37 L471.23 382.93 L472.02 380.51 L472.81 378.24 L473.61 376.25 L474.4 374.61 L475.19 373.12 L475.98 371.71 L476.77 370.39 L477.56 369.16 L478.36 368.04 L479.15 367.02 L479.94 366.12 L480.73 365.34 L481.52 364.6 L482.32 363.86 L483.11 363.14 L483.9 362.49 L484.69 361.92 L485.48 361.46 L486.27 361.14 L487.07 360.99 L487.86 360.98 L488.65 360.98 L489.44 360.98 L490.23 360.98 L491.03 360.98 L491.82 361 L492.61 361.26 L493.4 361.76 L494.19 362.46 L494.98 363.31 L495.78 364.27 L496.57 365.3 L497.36 366.35 L498.15 367.38 L498.94 368.34 L499.74 369.29 L500.53 370.29 L501.32 371.34 L502.11 372.44 L502.9 373.57 L503.69 374.72 L504.49 375.89 L505.28 377.07 L506.07 378.25 L506.86 379.42 L507.65 380.58 L508.45 381.72 L509.24 382.85 L510.03 383.98 L510.82 385.11 L511.61 386.25 L512.4 387.39 L513.2 388.53 L513.99 389.67 L514.78 390.82 L515.57 391.96 L516.36 393.1 L517.16 394.24 L517.95 395.39 L518.74 396.52 L519.53 397.67 L520.32 398.82 L521.11 399.97 L521.91 401.13 L522.7 402.29 L523.49 403.45 L524.28 404.61 L525.07 405.76 L525.87 406.9 L526.66 408.03 L527.45 409.15 L528.24 410.25 L529.03 411.34 L529.82 412.42 L530.62 413.51 L531.41 414.61 L532.2 415.71 L532.99 416.8 L533.78 417.88 L534.58 418.95 L535.37 420.01 L536.16 421.03 L536.95 422.03 L537.74 423 L538.53 423.93 L539.33 424.81 L540.12 425.65 L540.91 426.44 L541.7 427.22 L542.49 427.97 L543.28 428.71 L544.08 429.42 L544.87 430.12 L545.66 430.79 L546.45 431.43 L547.24 432.05 L548.04 432.65 L548.83 433.22 L549.62 433.75 L550.41 434.26 L551.2 434.75 L551.99 435.23 L552.79 435.7 L553.58 436.15 L554.37 436.59 L555.16 437.01 L555.95 437.42 L556.75 437.81 L557.54 438.18 L558.33 438.53 L559.12 438.85 L559.91 439.16 L560.7 439.43 L561.5 439.68 L562.29 439.92 L563.08 440.16 L563.87 440.38 L564.66 440.59 L565.46 440.79 L566.25 440.98 L567.04 441.16 L567.83 441.32 L568.62 441.47 L569.41 441.6 L570.21 441.72 L571 441.82 L571.79 441.91 L572.58 442 L573.37 442.08 L574.17 442.15 L574.96 442.23 L575.75 442.29 L576.54 442.36 L577.33 442.42 L578.12 442.47 L578.92 442.53 L579.71 442.58 L580.5 442.63 L581.29 442.67 L582.08 442.72 L582.88 442.76 L583.67 442.8 L584.46 442.84 L585.25 442.88 L586.04 442.92 L586.83 442.96 L587.63 443 L588.42 443.04 L589.21 443.07 L590 443.11 L590.79 443.14 L591.59 443.17 L592.38 443.2 L593.17 443.23 L593.96 443.25 L594.75 443.27 L595.54 443.29 L596.34 443.31 L597.13 443.33 L597.92 443.34 L598.71 443.36 L599.5 443.37 L600.29 443.38 L601.09 443.39 L601.88 443.4 L602.67 443.41 L603.46 443.42 L604.25 443.43 L605.05 443.44 L605.84 443.45 L606.63 443.46 L607.42 443.47 L608.21 443.48 L609 443.48 L609.8 443.49 L610.59 443.49 L611.38 443.5 L612.17 443.5 L612.96 443.5 L613.76 443.5 L614.55 443.5 L615.34 443.5 L616.13 443.5 L616.92 443.5 L617.71 443.5 L618.51 443.5 L619.3 443.5 L620.09 443.5 L620.88 443.5 L621.67 443.5 L622.47 443.5 L623.26 443.5 L624.05 443.5 L624.84 443.5 L625.63 443.5 L626.42 443.5 L627.22 443.5 L628.01 443.5 L628.8 443.5 L629.59 443.5 L630.38 443.5 L631.18 443.5 L631.97 443.5 L632.76 443.5 L633.55 443.5 L634.34 443.5 L635.13 443.5 L635.93 443.5 L636.72 443.5 L637.51 443.5 L638.3 443.5 L639.09 443.5 L639.89 443.5 L640.68 443.5 L641.47 443.5 L642.26 443.5 L643.05 443.5 L643.84 443.5 L644.64 443.5 L645.43 443.5 L646.22 443.5 L647.01 443.5 L647.8 443.5 L648.6 443.5 L649.39 443.5 L650.18 443.5 L650.97 443.5 L651.76 443.5 L652.55 443.5 L653.35 443.5 L654.14 443.5 L654.93 443.5 L655.72 443.5 L656.51 443.5 L657.3 443.5 L658.1 443.5 L658.89 443.5 L659.68 443.5 L660.47 443.5 L661.26 443.5 L662.06 443.5 L662.85 443.5 L663.64 443.5 L664.43 443.5 L665.22 443.5 L666.01 443.5 L666.81 443.5 L667.6 443.5 L668.39 443.5 L669.18 443.5 L669.97 443.5 L670.77 443.5 L671.56 443.5 L672.35 443.5 L673.14 443.5 L673.93 443.5 L674.72 443.5 L675.52 443.5 L676.31 443.5 L677.1 443.5" fill="none" stroke="#90ee90" stroke-width="2.0" stroke-opacity="0.88" stroke-dasharray="10.9 2.7 1.7 2.7" stroke-linejoin="round"/>
<path d="M392.05 443.5 L392.84 443.5 L393.63 443.5 L394.43 443.5 L395.22 443.5 L396.01 443.5 L396.8 443.5 L397.59 443.5 L398.38 443.5 L399.18 443.5 L399.97 443.5 L400.76 443.5 L401.55 443.5 L402.34 443.5 L403.14 443.5 L403.93 443.5 L404.72 443.5 L405.51 443.5 L406.3 443.5 L407.09 443.5 L407.89 443.5 L408.68 443.5 L409.47 443.5 L410.26 443.5 L411.05 443.5 L411.85 443.5 L412.64 443.5 L413.43 443.5 L414.22 443.5 L415.01 443.5 L415.8 443.5 L416.6 443.5 L417.39 443.5 L418.18 443.5 L418.97 443.5 L419.76 443.5 L420.56 443.5 L421.35 443.5 L422.14 443.5 L422.93 443.5 L423.72 443.5 L424.51 443.5 L425.31 443.5 L426.1 443.5 L426.89 443.5 L427.68 443.5 L428.47 443.5 L429.26 443.5 L430.06 443.5 L430.85 443.5 L431.64 443.5 L432.43 443.5 L433.22 443.5 L434.02 443.5 L434.81 443.5 L435.6 443.5 L436.39 443.5 L437.18 443.5 L437.97 443.5 L438.77 443.5 L439.56 443.5 L440.35 443.43 L441.14 443.23 L441.93 442.92 L442.73 442.51 L443.52 442.04 L444.31 441.51 L445.1 440.94 L445.89 440.36 L446.68 439.78 L447.48 439.14 L448.27 438.42 L449.06 437.6 L449.85 436.71 L450.64 435.74 L451.44 434.7 L452.23 433.6 L453.02 432.43 L453.81 431.21 L454.6 429.94 L455.39 428.62 L456.19 427.17 L456.98 425.52 L457.77 423.69 L458.56 421.75 L459.35 419.71 L460.15 417.62 L460.94 415.51 L461.73 413.44 L462.52 411.34 L463.31 409.17 L464.1 406.93 L464.9 404.66 L465.69 402.36 L466.48 400.04 L467.27 397.74 L468.06 395.45 L468.86 393.21 L469.65 390.99 L470.44 388.74 L471.23 386.48 L472.02 384.22 L472.81 381.98 L473.61 379.77 L474.4 377.61 L475.19 375.51 L475.98 373.49 L476.77 371.56 L477.56 369.59 L478.36 367.58 L479.15 365.6 L479.94 363.74 L480.73 362.09 L481.52 360.73 L482.32 359.73 L483.11 358.95 L483.9 358.22 L484.69 357.57 L485.48 357.06 L486.27 356.72 L487.07 356.6 L487.86 356.61 L488.65 356.64 L489.44 356.7 L490.23 356.77 L491.03 356.85 L491.82 356.97 L492.61 357.29 L493.4 357.82 L494.19 358.53 L494.98 359.38 L495.78 360.34 L496.57 361.35 L497.36 362.4 L498.15 363.44 L498.94 364.43 L499.74 365.42 L500.53 366.5 L501.32 367.65 L502.11 368.84 L502.9 370.09 L503.69 371.36 L504.49 372.64 L505.28 373.94 L506.07 375.22 L506.86 376.49 L507.65 377.72 L508.45 378.91 L509.24 380.07 L510.03 381.23 L510.82 382.38 L511.61 383.52 L512.4 384.66 L513.2 385.79 L513.99 386.92 L514.78 388.05 L515.57 389.18 L516.36 390.31 L517.16 391.44 L517.95 392.57 L518.74 393.71 L519.53 394.85 L520.32 396 L521.11 397.16 L521.91 398.32 L522.7 399.47 L523.49 400.63 L524.28 401.79 L525.07 402.94 L525.87 404.08 L526.66 405.21 L527.45 406.33 L528.24 407.43 L529.03 408.52 L529.82 409.6 L530.62 410.68 L531.41 411.77 L532.2 412.85 L532.99 413.92 L533.78 414.99 L534.58 416.05 L535.37 417.09 L536.16 418.11 L536.95 419.11 L537.74 420.08 L538.53 421.03 L539.33 421.94 L540.12 422.82 L540.91 423.67 L541.7 424.51 L542.49 425.34 L543.28 426.16 L544.08 426.96 L544.87 427.74 L545.66 428.5 L546.45 429.23 L547.24 429.93 L548.04 430.6 L548.83 431.23 L549.62 431.83 L550.41 432.38 L551.2 432.91 L551.99 433.41 L552.79 433.9 L553.58 434.37 L554.37 434.82 L555.16 435.26 L555.95 435.68 L556.75 436.08 L557.54 436.47 L558.33 436.84 L559.12 437.19 L559.91 437.52 L560.7 437.84 L561.5 438.14 L562.29 438.43 L563.08 438.71 L563.87 438.97 L564.66 439.23 L565.46 439.48 L566.25 439.72 L567.04 439.94 L567.83 440.16 L568.62 440.36 L569.41 440.55 L570.21 440.73 L571 440.91 L571.79 441.07 L572.58 441.24 L573.37 441.4 L574.17 441.56 L574.96 441.71 L575.75 441.86 L576.54 442 L577.33 442.13 L578.12 442.25 L578.92 442.37 L579.71 442.47 L580.5 442.57 L581.29 442.65 L582.08 442.72 L582.88 442.78 L583.67 442.84 L584.46 442.9 L585.25 442.96 L586.04 443.01 L586.83 443.07 L587.63 443.12 L588.42 443.17 L589.21 443.22 L590 443.26 L590.79 443.31 L591.59 443.34 L592.38 443.38 L593.17 443.41 L593.96 443.44 L594.75 443.46 L595.54 443.48 L596.34 443.49 L597.13 443.5 L597.92 443.5 L598.71 443.5 L599.5 443.5 L600.29 443.5 L601.09 443.5 L601.88 443.5 L602.67 443.5 L603.46 443.5 L604.25 443.5 L605.05 443.5 L605.84 443.5 L606.63 443.5 L607.42 443.5 L608.21 443.5 L609 443.5 L609.8 443.5 L610.59 443.5 L611.38 443.5 L612.17 443.5 L612.96 443.5 L613.76 443.5 L614.55 443.5 L615.34 443.5 L616.13 443.5 L616.92 443.5 L617.71 443.5 L618.51 443.5 L619.3 443.5 L620.09 443.5 L620.88 443.5 L621.67 443.5 L622.47 443.5 L623.26 443.5 L624.05 443.5 L624.84 443.5 L625.63 443.5 L626.42 443.5 L627.22 443.5 L628.01 443.5 L628.8 443.5 L629.59 443.5 L630.38 443.5 L631.18 443.5 L631.97 443.5 L632.76 443.5 L633.55 443.5 L634.34 443.5 L635.13 443.5 L635.93 443.5 L636.72 443.5 L637.51 443.5 L638.3 443.5 L639.09 443.5 L639.89 443.5 L640.68 443.5 L641.47 443.5 L642.26 443.5 L643.05 443.5 L643.84 443.5 L644.64 443.5 L645.43 443.5 L646.22 443.5 L647.01 443.5 L647.8 443.5 L648.6 443.5 L649.39 443.5 L650.18 443.5 L650.97 443.5 L651.76 443.5 L652.55 443.5 L653.35 443.5 L654.14 443.5 L654.93 443.5 L655.72 443.5 L656.51 443.5 L657.3 443.5 L658.1 443.5 L658.89 443.5 L659.68 443.5 L660.47 443.5 L661.26 443.5 L662.06 443.5 L662.85 443.5 L663.64 443.5 L664.43 443.5 L665.22 443.5 L666.01 443.5 L666.81 443.5 L667.6 443.5 L668.39 443.5 L669.18 443.5 L669.97 443.5 L670.77 443.5 L671.56 443.5 L672.35 443.5 L673.14 443.5 L673.93 443.5 L674.72 443.5 L675.52 443.5 L676.31 443.5 L677.1 443.5" fill="none" stroke="#ffc0cb" stroke-width="2.0" stroke-opacity="0.88" stroke-dasharray="10.9 2.7 1.7 2.7" stroke-linejoin="round"/>
<path d="M392.05 443.5 L392.84 443.5 L393.63 443.5 L394.43 443.5 L395.22 443.5 L396.01 443.5 L396.8 443.5 L397.59 443.5 L398.38 443.5 L399.18 443.5 L399.97 443.5 L400.76 443.5 L401.55 443.5 L402.34 443.5 L403.14 443.5 L403.93 443.5 L404.72 443.5 L405.51 443.5 L406.3 443.5 L407.09 443.5 L407.89 443.5 L408.68 443.5 L409.47 443.5 L410.26 443.5 L411.05 443.5 L411.85 443.5 L412.64 443.5 L413.43 443.5 L414.22 443.5 L415.01 443.5 L415.8 443.5 L416.6 443.5 L417.39 443.5 L418.18 443.5 L418.97 443.5 L419.76 443.5 L420.56 443.5 L421.35 443.5 L422.14 443.5 L422.93 443.5 L423.72 443.5 L424.51 443.5 L425.31 443.5 L426.1 443.5 L426.89 443.5 L427.68 443.5 L428.47 443.5 L429.26 443.5 L430.06 443.5 L430.85 443.5 L431.64 443.5 L432.43 443.5 L433.22 443.5 L434.02 443.5 L434.81 443.5 L435.6 443.5 L436.39 443.5 L437.18 443.5 L437.97 443.5 L438.77 443.5 L439.56 443.5 L440.35 443.5 L441.14 443.5 L441.93 443.5 L442.73 443.5 L443.52 443.5 L444.31 443.5 L445.1 443.5 L445.89 443.5 L446.68 443.5 L447.48 443.5 L448.27 443.5 L449.06 443.5 L449.85 443.5 L450.64 443.5 L451.44 443.5 L452.23 443.5 L453.02 443.5 L453.81 443.5 L454.6 443.5 L455.39 443.5 L456.19 443.5 L456.98 443.5 L457.77 443.5 L458.56 443.5 L459.35 443.5 L460.15 443.5 L460.94 443.44 L461.73 443.3 L462.52 443.13 L463.31 442.97 L464.1 442.84 L464.9 442.72 L465.69 442.59 L466.48 442.45 L467.27 442.3 L468.06 442.11 L468.86 441.89 L469.65 441.62 L470.44 441.17 L471.23 440.46 L472.02 439.56 L472.81 438.56 L473.61 437.53 L474.4 436.53 L475.19 435.5 L475.98 434.41 L476.77 433.24 L477.56 431.97 L478.36 430.58 L479.15 429.01 L479.94 427.19 L480.73 425.2 L481.52 423.1 L482.32 420.94 L483.11 418.79 L483.9 416.65 L484.69 414.47 L485.48 412.2 L486.27 409.78 L487.07 407.17 L487.86 404.26 L488.65 400.99 L489.44 397.44 L490.23 393.71 L491.03 389.57 L491.82 385.14 L492.61 381.03 L493.4 377.48 L494.19 374.17 L494.98 370.8 L495.78 367.25 L496.57 363.63 L497.36 359.88 L498.15 355.87 L498.94 351.58 L499.74 347.29 L500.53 343.23 L501.32 339.23 L502.11 335.44 L502.9 332.06 L503.69 328.85 L504.49 326 L505.28 323.91 L506.07 322.4 L506.86 321.18 L507.65 320.15 L508.45 319.25 L509.24 318.47 L510.03 317.75 L510.82 316.93 L511.61 316.25 L512.4 316.34 L513.2 316.96 L513.99 317.89 L514.78 319.07 L515.57 320.98 L516.36 323.39 L517.16 325.97 L517.95 329.02 L518.74 332.37 L519.53 335.65 L520.32 338.81 L521.11 341.98 L521.91 345.19 L522.7 348.47 L523.49 351.79 L524.28 355.14 L525.07 358.55 L525.87 362.01 L526.66 365.43 L527.45 368.73 L528.24 371.92 L529.03 375.11 L529.82 378.45 L530.62 381.94 L531.41 385.35 L532.2 388.7 L532.99 392.02 L533.78 395.27 L534.58 398.43 L535.37 401.47 L536.16 404.43 L536.95 407.31 L537.74 410.13 L538.53 412.89 L539.33 415.63 L540.12 418.35 L540.91 420.99 L541.7 423.48 L542.49 425.76 L543.28 427.98 L544.08 430.1 L544.87 432.04 L545.66 433.69 L546.45 435.05 L547.24 436.3 L548.04 437.43 L548.83 438.42 L549.62 439.25 L550.41 439.9 L551.2 440.41 L551.99 440.87 L552.79 441.27 L553.58 441.62 L554.37 441.92 L555.16 442.16 L555.95 442.37 L556.75 442.56 L557.54 442.75 L558.33 442.92 L559.12 443.08 L559.91 443.22 L560.7 443.34 L561.5 443.43 L562.29 443.48 L563.08 443.5 L563.87 443.5 L564.66 443.5 L565.46 443.5 L566.25 443.5 L567.04 443.5 L567.83 443.5 L568.62 443.5 L569.41 443.5 L570.21 443.5 L571 443.5 L571.79 443.5 L572.58 443.5 L573.37 443.5 L574.17 443.5 L574.96 443.5 L575.75 443.5 L576.54 443.5 L577.33 443.5 L578.12 443.5 L578.92 443.5 L579.71 443.5 L580.5 443.5 L581.29 443.5 L582.08 443.5 L582.88 443.5 L583.67 443.5 L584.46 443.5 L585.25 443.5 L586.04 443.5 L586.83 443.5 L587.63 443.5 L588.42 443.5 L589.21 443.5 L590 443.5 L590.79 443.5 L591.59 443.5 L592.38 443.5 L593.17 443.5 L593.96 443.5 L594.75 443.5 L595.54 443.5 L596.34 443.5 L597.13 443.5 L597.92 443.5 L598.71 443.5 L599.5 443.5 L600.29 443.5 L601.09 443.5 L601.88 443.5 L602.67 443.5 L603.46 443.5 L604.25 443.5 L605.05 443.5 L605.84 443.5 L606.63 443.5 L607.42 443.5 L608.21 443.5 L609 443.5 L609.8 443.5 L610.59 443.5 L611.38 443.5 L612.17 443.5 L612.96 443.5 L613.76 443.5 L614.55 443.5 L615.34 443.5 L616.13 443.5 L616.92 443.5 L617.71 443.5 L618.51 443.5 L619.3 443.5 L620.09 443.5 L620.88 443.5 L621.67 443.5 L622.47 443.5 L623.26 443.5 L624.05 443.5 L624.84 443.5 L625.63 443.5 L626.42 443.5 L627.22 443.5 L628.01 443.5 L628.8 443.5 L629.59 443.5 L630.38 443.5 L631.18 443.5 L631.97 443.5 L632.76 443.5 L633.55 443.5 L634.34 443.5 L635.13 443.5 L635.93 443.5 L636.72 443.5 L637.51 443.5 L638.3 443.5 L639.09 443.5 L639.89 443.5 L640.68 443.5 L641.47 443.5 L642.26 443.5 L643.05 443.5 L643.84 443.5 L644.64 443.5 L645.43 443.5 L646.22 443.5 L647.01 443.5 L647.8 443.5 L648.6 443.5 L649.39 443.5 L650.18 443.5 L650.97 443.5 L651.76 443.5 L652.55 443.5 L653.35 443.5 L654.14 443.5 L654.93 443.5 L655.72 443.5 L656.51 443.5 L657.3 443.5 L658.1 443.5 L658.89 443.5 L659.68 443.5 L660.47 443.5 L661.26 443.5 L662.06 443.5 L662.85 443.5 L663.64 443.5 L664.43 443.5 L665.22 443.5 L666.01 443.5 L666.81 443.5 L667.6 443.5 L668.39 443.5 L669.18 443.5 L669.97 443.5 L670.77 443.5 L671.56 443.5 L672.35 443.5 L673.14 443.5 L673.93 443.5 L674.72 443.5 L675.52 443.5 L676.31 443.5 L677.1 443.5" fill="none" stroke="#2a2a2a" stroke-width="2.1" stroke-linejoin="round"/>
</g>
<rect x="392.05" y="255.6" width="285.05" height="187.9" fill="none" stroke="#333333" stroke-width="1.2"/>
<line x1="392.05" y1="443.5" x2="392.05" y2="446.1" stroke="#333333" stroke-width="1.1"/>
<text x="392.05" y="458.1" text-anchor="middle" font-size="10">30</text>
<line x1="423.72" y1="443.5" x2="423.72" y2="446.1" stroke="#333333" stroke-width="1.1"/>
<text x="423.72" y="458.1" text-anchor="middle" font-size="10">40</text>
<line x1="455.39" y1="443.5" x2="455.39" y2="446.1" stroke="#333333" stroke-width="1.1"/>
<text x="455.39" y="458.1" text-anchor="middle" font-size="10">50</text>
<line x1="487.07" y1="443.5" x2="487.07" y2="446.1" stroke="#333333" stroke-width="1.1"/>
<text x="487.07" y="458.1" text-anchor="middle" font-size="10">60</text>
<line x1="518.74" y1="443.5" x2="518.74" y2="446.1" stroke="#333333" stroke-width="1.1"/>
<text x="518.74" y="458.1" text-anchor="middle" font-size="10">70</text>
<line x1="550.41" y1="443.5" x2="550.41" y2="446.1" stroke="#333333" stroke-width="1.1"/>
<text x="550.41" y="458.1" text-anchor="middle" font-size="10">80</text>
<line x1="582.08" y1="443.5" x2="582.08" y2="446.1" stroke="#333333" stroke-width="1.1"/>
<text x="582.08" y="458.1" text-anchor="middle" font-size="10">90</text>
<line x1="613.76" y1="443.5" x2="613.76" y2="446.1" stroke="#333333" stroke-width="1.1"/>
<text x="613.76" y="458.1" text-anchor="middle" font-size="10">100</text>
<line x1="645.43" y1="443.5" x2="645.43" y2="446.1" stroke="#333333" stroke-width="1.1"/>
<text x="645.43" y="458.1" text-anchor="middle" font-size="10">110</text>
<line x1="677.1" y1="443.5" x2="677.1" y2="446.1" stroke="#333333" stroke-width="1.1"/>
<text x="677.1" y="458.1" text-anchor="middle" font-size="10">120</text>
<line x1="389.45" y1="443.5" x2="392.05" y2="443.5" stroke="#333333" stroke-width="1.1"/>
<text x="385.05" y="447.2" text-anchor="end" font-size="10">0.00</text>
<line x1="389.45" y1="412.18" x2="392.05" y2="412.18" stroke="#333333" stroke-width="1.1"/>
<text x="385.05" y="415.88" text-anchor="end" font-size="10">0.02</text>
<line x1="389.45" y1="380.87" x2="392.05" y2="380.87" stroke="#333333" stroke-width="1.1"/>
<text x="385.05" y="384.57" text-anchor="end" font-size="10">0.04</text>
<line x1="389.45" y1="349.55" x2="392.05" y2="349.55" stroke="#333333" stroke-width="1.1"/>
<text x="385.05" y="353.25" text-anchor="end" font-size="10">0.06</text>
<line x1="389.45" y1="318.23" x2="392.05" y2="318.23" stroke="#333333" stroke-width="1.1"/>
<text x="385.05" y="321.93" text-anchor="end" font-size="10">0.08</text>
<line x1="389.45" y1="286.92" x2="392.05" y2="286.92" stroke="#333333" stroke-width="1.1"/>
<text x="385.05" y="290.62" text-anchor="end" font-size="10">0.10</text>
<line x1="389.45" y1="255.6" x2="392.05" y2="255.6" stroke="#333333" stroke-width="1.1"/>
<text x="385.05" y="259.3" text-anchor="end" font-size="10">0.12</text>
<text x="535.08" y="473.9" text-anchor="middle" font-size="10"><tspan font-style="italic">H</tspan><tspan font-size="6.60" dy="2.8">0</tspan><tspan dy="-2.8"> [km s</tspan><tspan font-size="6.60" dy="-4.3">−1</tspan><tspan dy="4.3"> Mpc</tspan><tspan font-size="6.60" dy="-4.3">−1</tspan><tspan dy="4.3">]</tspan></text>
<text transform="translate(356.75,349.55) rotate(-90)" text-anchor="middle" font-size="10">Probability</text>
<text x="349.25" y="255.3" font-size="14.5" font-weight="bold">d</text>
<rect x="579.35" y="260.1" width="92.9" height="108.1" rx="2" fill="#fff" fill-opacity="0.8" stroke="#cccccc" stroke-width="0.9"/>
<line x1="583.05" y1="266.9" x2="601.45" y2="266.9" stroke="#6495ed" stroke-width="2.0" stroke-opacity="0.88" stroke-dasharray="10.9 2.7 1.7 2.7"/>
<text x="606.65" y="270.3" font-size="9.85">GRB060614</text>
<line x1="583.05" y1="280.27" x2="601.45" y2="280.27" stroke="#ff7f50" stroke-width="2.0" stroke-opacity="0.88" stroke-dasharray="10.9 2.7 1.7 2.7"/>
<text x="606.65" y="283.67" font-size="9.85">GRB150101B</text>
<line x1="583.05" y1="293.64" x2="601.45" y2="293.64" stroke="#90ee90" stroke-width="2.0" stroke-opacity="0.88" stroke-dasharray="10.9 2.7 1.7 2.7"/>
<text x="606.65" y="297.04" font-size="9.85">GRB050709</text>
<line x1="583.05" y1="307.01" x2="601.45" y2="307.01" stroke="#ffc0cb" stroke-width="2.0" stroke-opacity="0.88" stroke-dasharray="10.9 2.7 1.7 2.7"/>
<text x="606.65" y="310.41" font-size="9.85">GRB160821B</text>
<line x1="582.05" y1="320.38" x2="601.75" y2="320.38" stroke="#2a2a2a" stroke-width="2.4" stroke-opacity="0.9"/>
<text x="606.65" y="323.78" font-size="9.85">Combined</text>
<line x1="582.05" y1="333.75" x2="601.75" y2="333.75" stroke="#9fd79f" stroke-width="1.1"/>
<text x="606.65" y="337.15" font-size="9.85">Planck</text>
<line x1="582.05" y1="347.12" x2="601.75" y2="347.12" stroke="#f5a0a0" stroke-width="1.1"/>
<text x="606.65" y="350.52" font-size="9.85">SHoES</text>
<line x1="582.05" y1="360.49" x2="601.75" y2="360.49" stroke="#a6e6ec" stroke-width="1.1"/>
<text x="606.65" y="363.89" font-size="9.85">Superluminal</text>
</g>
</svg>
</body></html>
